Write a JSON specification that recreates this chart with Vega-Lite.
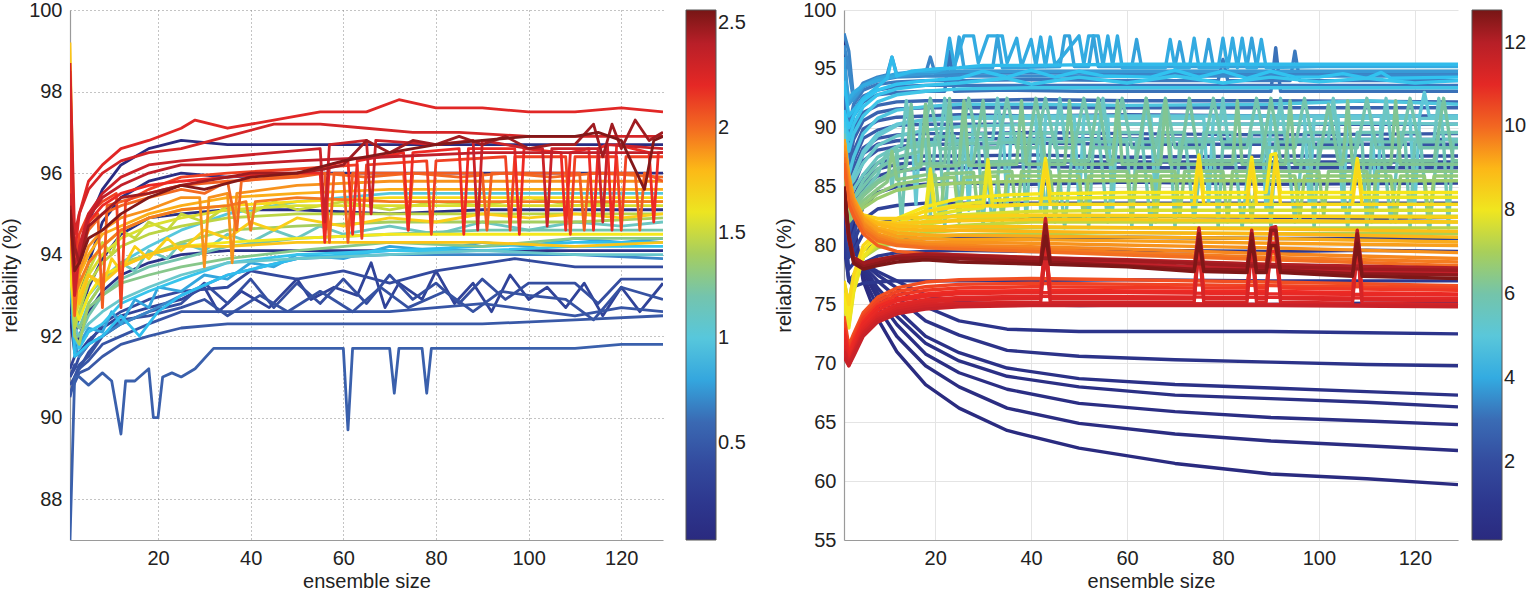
{
  "$schema": "https://vega.github.io/schema/vega-lite/v6.json",
  "padding": {"left": 0, "top": 0, "right": 0, "bottom": 0},
  "background": "white",
  "spacing": 28,
  "config": {
    "font": "Liberation Sans",
    "view": {"stroke": null},
    "axis": {
      "labelFontSize": 20, "titleFontSize": 20, "titleFontWeight": "normal",
      "labelColor": "#222", "titleColor": "#222",
      "domainColor": "#9a9a9a", "domainWidth": 1.2,
      "ticks": false, "tickSize": 0, "labelPadding": 8
    },
    "axisY": {"titlePadding": 8},
    "axisX": {"titlePadding": 3},
    "legend": {
      "labelFontSize": 20, "labelColor": "#222",
      "gradientLength": 530, "gradientThickness": 30,
      "gradientStrokeColor": "#555", "gradientStrokeWidth": 1,
      "labelOffset": 4, "padding": 0
    }
  },
  "resolve": {"scale": {"color": "independent"}, "legend": {"color": "independent"}},
  "datasets": {
    "L": [
      {"c":0.06,"x":1,"y":93.5},{"c":0.06,"x":2,"y":92.8},{"c":0.06,"x":3,"y":93.5},{"c":0.06,"x":5,"y":94.8},{"c":0.06,"x":8,"y":95.6},{"c":0.06,"x":12,"y":96.2},{"c":0.06,"x":18,"y":96.6},{"c":0.06,"x":25,"y":96.8},{"c":0.06,"x":35,"y":96.7},{"c":0.06,"x":50,"y":96.7},{"c":0.06,"x":70,"y":96.7},{"c":0.06,"x":90,"y":96.7},{"c":0.06,"x":110,"y":96.7},{"c":0.06,"x":129,"y":96.7},
      {"c":0.09,"x":1,"y":93},{"c":0.09,"x":2,"y":92.5},{"c":0.09,"x":3,"y":93},{"c":0.09,"x":5,"y":93.8},{"c":0.09,"x":8,"y":94.8},{"c":0.09,"x":12,"y":95.4},{"c":0.09,"x":18,"y":95.8},{"c":0.09,"x":25,"y":96},{"c":0.09,"x":35,"y":95.9},{"c":0.09,"x":50,"y":96},{"c":0.09,"x":70,"y":96},{"c":0.09,"x":90,"y":96},{"c":0.09,"x":110,"y":96},{"c":0.09,"x":129,"y":96},
      {"c":0.12,"x":1,"y":92.8},{"c":0.12,"x":2,"y":92},{"c":0.12,"x":3,"y":92.5},{"c":0.12,"x":5,"y":93.2},{"c":0.12,"x":8,"y":93.9},{"c":0.12,"x":12,"y":94.5},{"c":0.12,"x":18,"y":94.9},{"c":0.12,"x":25,"y":95},{"c":0.12,"x":35,"y":95.1},{"c":0.12,"x":50,"y":95.1},{"c":0.12,"x":70,"y":95},{"c":0.12,"x":90,"y":95.1},{"c":0.12,"x":110,"y":95.1},{"c":0.12,"x":129,"y":95.1},
      {"c":0.16,"x":1,"y":92.5},{"c":0.16,"x":2,"y":91.6},{"c":0.16,"x":3,"y":92},{"c":0.16,"x":5,"y":92.6},{"c":0.16,"x":8,"y":93.1},{"c":0.16,"x":12,"y":93.5},{"c":0.16,"x":18,"y":93.8},{"c":0.16,"x":25,"y":94},{"c":0.16,"x":35,"y":94.1},{"c":0.16,"x":50,"y":94.1},{"c":0.16,"x":70,"y":94.1},{"c":0.16,"x":90,"y":94.1},{"c":0.16,"x":110,"y":94.1},{"c":0.16,"x":129,"y":94.1},
      {"c":0.34,"x":1,"y":91.2},{"c":0.34,"x":2,"y":91.5},{"c":0.34,"x":3,"y":91.6},{"c":0.34,"x":5,"y":91.9},{"c":0.34,"x":8,"y":92.2},{"c":0.34,"x":12,"y":92.5},{"c":0.34,"x":18,"y":92.7},{"c":0.34,"x":25,"y":92.9},{"c":0.34,"x":30,"y":93.2},{"c":0.34,"x":33,"y":92.6},{"c":0.34,"x":38,"y":93.1},{"c":0.34,"x":44,"y":92.7},{"c":0.34,"x":50,"y":93.4},{"c":0.34,"x":53,"y":92.9},{"c":0.34,"x":58,"y":93.2},{"c":0.34,"x":63,"y":93},{"c":0.34,"x":66,"y":93.8},{"c":0.34,"x":69,"y":92.7},{"c":0.34,"x":72,"y":93.3},{"c":0.34,"x":77,"y":92.9},{"c":0.34,"x":80,"y":93.6},{"c":0.34,"x":84,"y":92.8},{"c":0.34,"x":88,"y":93.3},{"c":0.34,"x":92,"y":92.6},{"c":0.34,"x":96,"y":93.5},{"c":0.34,"x":100,"y":92.9},{"c":0.34,"x":104,"y":93.2},{"c":0.34,"x":108,"y":92.7},{"c":0.34,"x":112,"y":93.3},{"c":0.34,"x":116,"y":92.5},{"c":0.34,"x":120,"y":93.2},{"c":0.34,"x":124,"y":92.6},{"c":0.34,"x":129,"y":93.3},
      {"c":0.4,"x":1,"y":91},{"c":0.4,"x":2,"y":91.2},{"c":0.4,"x":3,"y":91.5},{"c":0.4,"x":5,"y":91.8},{"c":0.4,"x":8,"y":92.3},{"c":0.4,"x":12,"y":92.6},{"c":0.4,"x":18,"y":92.9},{"c":0.4,"x":25,"y":93.1},{"c":0.4,"x":35,"y":93.2},{"c":0.4,"x":40,"y":93.6},{"c":0.4,"x":50,"y":93.4},{"c":0.4,"x":60,"y":93.6},{"c":0.4,"x":70,"y":93.3},{"c":0.4,"x":80,"y":93.6},{"c":0.4,"x":97,"y":93.9},{"c":0.4,"x":110,"y":93.7},{"c":0.4,"x":129,"y":93.7},
      {"c":0.43,"x":1,"y":91},{"c":0.43,"x":2,"y":91.3},{"c":0.43,"x":3,"y":91.2},{"c":0.43,"x":5,"y":91.6},{"c":0.43,"x":8,"y":92},{"c":0.43,"x":12,"y":92.3},{"c":0.43,"x":18,"y":92.6},{"c":0.43,"x":25,"y":92.8},{"c":0.43,"x":30,"y":93.3},{"c":0.43,"x":35,"y":92.8},{"c":0.43,"x":40,"y":93.4},{"c":0.43,"x":45,"y":92.7},{"c":0.43,"x":50,"y":93.3},{"c":0.43,"x":55,"y":92.8},{"c":0.43,"x":60,"y":93.4},{"c":0.43,"x":65,"y":92.8},{"c":0.43,"x":70,"y":93.5},{"c":0.43,"x":75,"y":92.9},{"c":0.43,"x":80,"y":93.3},{"c":0.43,"x":85,"y":92.8},{"c":0.43,"x":90,"y":93.4},{"c":0.43,"x":95,"y":92.9},{"c":0.43,"x":100,"y":93.3},{"c":0.43,"x":110,"y":93.3},{"c":0.43,"x":115,"y":92.8},{"c":0.43,"x":120,"y":93.4},{"c":0.43,"x":129,"y":93.4},
      {"c":0.46,"x":1,"y":90.8},{"c":0.46,"x":2,"y":91},{"c":0.46,"x":3,"y":91.3},{"c":0.46,"x":5,"y":91.5},{"c":0.46,"x":8,"y":92},{"c":0.46,"x":12,"y":92.4},{"c":0.46,"x":18,"y":92.5},{"c":0.46,"x":25,"y":92.7},{"c":0.46,"x":30,"y":92.9},{"c":0.46,"x":35,"y":92.5},{"c":0.46,"x":42,"y":93},{"c":0.46,"x":48,"y":92.6},{"c":0.46,"x":55,"y":93.1},{"c":0.46,"x":62,"y":92.6},{"c":0.46,"x":68,"y":93.2},{"c":0.46,"x":74,"y":92.7},{"c":0.46,"x":82,"y":93.1},{"c":0.46,"x":88,"y":92.6},{"c":0.46,"x":94,"y":93.1},{"c":0.46,"x":100,"y":93},{"c":0.46,"x":108,"y":92.9},{"c":0.46,"x":114,"y":92.4},{"c":0.46,"x":120,"y":93.2},{"c":0.46,"x":129,"y":92.9},
      {"c":0.49,"x":1,"y":90.5},{"c":0.49,"x":2,"y":91},{"c":0.49,"x":3,"y":91.2},{"c":0.49,"x":5,"y":91.4},{"c":0.49,"x":8,"y":91.8},{"c":0.49,"x":12,"y":92},{"c":0.49,"x":18,"y":92.3},{"c":0.49,"x":25,"y":92.6},{"c":0.49,"x":35,"y":92.6},{"c":0.49,"x":50,"y":92.6},{"c":0.49,"x":70,"y":92.6},{"c":0.49,"x":90,"y":92.8},{"c":0.49,"x":110,"y":92.5},{"c":0.49,"x":120,"y":92.7},{"c":0.49,"x":129,"y":92.6},
      {"c":0.52,"x":1,"y":90.6},{"c":0.52,"x":3,"y":91.1},{"c":0.52,"x":5,"y":91.2},{"c":0.52,"x":8,"y":91.5},{"c":0.52,"x":12,"y":91.8},{"c":0.52,"x":18,"y":92},{"c":0.52,"x":25,"y":92.2},{"c":0.52,"x":35,"y":92.3},{"c":0.52,"x":50,"y":92.3},{"c":0.52,"x":70,"y":92.3},{"c":0.52,"x":90,"y":92.3},{"c":0.52,"x":110,"y":92.4},{"c":0.52,"x":129,"y":92.5},
      {"c":0.56,"x":1,"y":87},{"c":0.56,"x":2,"y":91},{"c":0.56,"x":3,"y":91},{"c":0.56,"x":5,"y":90.8},{"c":0.56,"x":8,"y":91.1},{"c":0.56,"x":10,"y":90.9},{"c":0.56,"x":12,"y":89.6},{"c":0.56,"x":13,"y":90.9},{"c":0.56,"x":15,"y":90.9},{"c":0.56,"x":18,"y":91.2},{"c":0.56,"x":19,"y":90},{"c":0.56,"x":20,"y":90},{"c":0.56,"x":21,"y":91},{"c":0.56,"x":23,"y":91.1},{"c":0.56,"x":25,"y":91},{"c":0.56,"x":28,"y":91.2},{"c":0.56,"x":32,"y":91.7},{"c":0.56,"x":40,"y":91.7},{"c":0.56,"x":50,"y":91.7},{"c":0.56,"x":60,"y":91.7},{"c":0.56,"x":61,"y":89.7},{"c":0.56,"x":62,"y":91.7},{"c":0.56,"x":70,"y":91.7},{"c":0.56,"x":71,"y":90.6},{"c":0.56,"x":72,"y":91.7},{"c":0.56,"x":77,"y":91.7},{"c":0.56,"x":78,"y":90.6},{"c":0.56,"x":79,"y":91.7},{"c":0.56,"x":90,"y":91.7},{"c":0.56,"x":110,"y":91.7},{"c":0.56,"x":120,"y":91.8},{"c":0.56,"x":129,"y":91.8},
      {"c":0.72,"x":1,"y":93.5},{"c":0.72,"x":2,"y":91.8},{"c":0.72,"x":3,"y":91.5},{"c":0.72,"x":5,"y":91.8},{"c":0.72,"x":8,"y":92},{"c":0.72,"x":12,"y":92.3},{"c":0.72,"x":18,"y":92.6},{"c":0.72,"x":25,"y":93},{"c":0.72,"x":35,"y":93.5},{"c":0.72,"x":50,"y":93.9},{"c":0.72,"x":70,"y":94},{"c":0.72,"x":90,"y":94},{"c":0.72,"x":110,"y":94},{"c":0.72,"x":129,"y":93.9},
      {"c":0.8,"x":1,"y":93.8},{"c":0.8,"x":2,"y":91.6},{"c":0.8,"x":3,"y":91.8},{"c":0.8,"x":5,"y":92.2},{"c":0.8,"x":8,"y":92.1},{"c":0.8,"x":10,"y":92.6},{"c":0.8,"x":12,"y":92.3},{"c":0.8,"x":15,"y":92.9},{"c":0.8,"x":18,"y":92.7},{"c":0.8,"x":20,"y":93.2},{"c":0.8,"x":25,"y":93.1},{"c":0.8,"x":30,"y":93.5},{"c":0.8,"x":35,"y":93.4},{"c":0.8,"x":40,"y":93.8},{"c":0.8,"x":45,"y":93.7},{"c":0.8,"x":50,"y":94},{"c":0.8,"x":60,"y":93.9},{"c":0.8,"x":70,"y":94.2},{"c":0.8,"x":80,"y":94.1},{"c":0.8,"x":90,"y":94.3},{"c":0.8,"x":100,"y":94.2},{"c":0.8,"x":110,"y":94.4},{"c":0.8,"x":120,"y":94.3},{"c":0.8,"x":129,"y":94.4},
      {"c":0.86,"x":1,"y":94},{"c":0.86,"x":2,"y":91.5},{"c":0.86,"x":3,"y":91.6},{"c":0.86,"x":5,"y":91.8},{"c":0.86,"x":8,"y":92},{"c":0.86,"x":12,"y":92.5},{"c":0.86,"x":16,"y":92},{"c":0.86,"x":20,"y":92.6},{"c":0.86,"x":25,"y":93},{"c":0.86,"x":35,"y":93.5},{"c":0.86,"x":50,"y":93.9},{"c":0.86,"x":70,"y":94.1},{"c":0.86,"x":90,"y":94.2},{"c":0.86,"x":110,"y":94.3},{"c":0.86,"x":129,"y":94.3},
      {"c":0.9,"x":1,"y":94.2},{"c":0.9,"x":2,"y":92},{"c":0.9,"x":3,"y":91.7},{"c":0.9,"x":5,"y":92.1},{"c":0.9,"x":8,"y":92.3},{"c":0.9,"x":12,"y":92.8},{"c":0.9,"x":18,"y":93.1},{"c":0.9,"x":25,"y":93.4},{"c":0.9,"x":35,"y":93.8},{"c":0.9,"x":50,"y":94},{"c":0.9,"x":70,"y":94.1},{"c":0.9,"x":90,"y":94.1},{"c":0.9,"x":110,"y":94.2},{"c":0.9,"x":129,"y":94.2},
      {"c":1.0,"x":1,"y":94.5},{"c":1.0,"x":2,"y":92.5},{"c":1.0,"x":3,"y":92.2},{"c":1.0,"x":5,"y":92.8},{"c":1.0,"x":8,"y":93.3},{"c":1.0,"x":12,"y":93.8},{"c":1.0,"x":18,"y":94.2},{"c":1.0,"x":25,"y":94.6},{"c":1.0,"x":35,"y":95},{"c":1.0,"x":50,"y":95.3},{"c":1.0,"x":70,"y":95.5},{"c":1.0,"x":90,"y":95.5},{"c":1.0,"x":110,"y":95.5},{"c":1.0,"x":129,"y":95.5},
      {"c":1.08,"x":1,"y":94},{"c":1.08,"x":2,"y":92.2},{"c":1.08,"x":3,"y":92},{"c":1.08,"x":5,"y":92.3},{"c":1.08,"x":8,"y":92.6},{"c":1.08,"x":12,"y":92.9},{"c":1.08,"x":18,"y":93.2},{"c":1.08,"x":25,"y":93.5},{"c":1.08,"x":35,"y":93.8},{"c":1.08,"x":50,"y":93.9},{"c":1.08,"x":70,"y":94},{"c":1.08,"x":90,"y":94.1},{"c":1.08,"x":110,"y":94},{"c":1.08,"x":129,"y":94},
      {"c":1.12,"x":1,"y":94.3},{"c":1.12,"x":2,"y":92.4},{"c":1.12,"x":3,"y":92.5},{"c":1.12,"x":5,"y":93},{"c":1.12,"x":8,"y":93.4},{"c":1.12,"x":12,"y":93.8},{"c":1.12,"x":15,"y":93.6},{"c":1.12,"x":18,"y":94.1},{"c":1.12,"x":22,"y":93.9},{"c":1.12,"x":25,"y":94.3},{"c":1.12,"x":30,"y":94.1},{"c":1.12,"x":35,"y":94.5},{"c":1.12,"x":40,"y":94.3},{"c":1.12,"x":45,"y":94.6},{"c":1.12,"x":50,"y":94.4},{"c":1.12,"x":55,"y":94.7},{"c":1.12,"x":60,"y":94.5},{"c":1.12,"x":70,"y":94.7},{"c":1.12,"x":80,"y":94.5},{"c":1.12,"x":90,"y":94.8},{"c":1.12,"x":100,"y":94.6},{"c":1.12,"x":110,"y":94.8},{"c":1.12,"x":120,"y":94.7},{"c":1.12,"x":129,"y":94.8},
      {"c":1.2,"x":1,"y":94},{"c":1.2,"x":2,"y":92},{"c":1.2,"x":3,"y":92},{"c":1.2,"x":5,"y":92.5},{"c":1.2,"x":8,"y":93},{"c":1.2,"x":12,"y":93.4},{"c":1.2,"x":18,"y":93.7},{"c":1.2,"x":25,"y":93.9},{"c":1.2,"x":35,"y":94.2},{"c":1.2,"x":50,"y":94.4},{"c":1.2,"x":70,"y":94.5},{"c":1.2,"x":90,"y":94.6},{"c":1.2,"x":110,"y":94.6},{"c":1.2,"x":129,"y":94.6},
      {"c":1.3,"x":1,"y":94},{"c":1.3,"x":2,"y":92.3},{"c":1.3,"x":3,"y":92.2},{"c":1.3,"x":5,"y":92.7},{"c":1.3,"x":8,"y":93},{"c":1.3,"x":12,"y":93.3},{"c":1.3,"x":18,"y":93.5},{"c":1.3,"x":25,"y":93.7},{"c":1.3,"x":35,"y":93.9},{"c":1.3,"x":50,"y":94.1},{"c":1.3,"x":70,"y":94.3},{"c":1.3,"x":90,"y":94.2},{"c":1.3,"x":110,"y":94.4},{"c":1.3,"x":129,"y":94.4},
      {"c":1.4,"x":1,"y":93.8},{"c":1.4,"x":2,"y":92},{"c":1.4,"x":3,"y":91.8},{"c":1.4,"x":5,"y":92.8},{"c":1.4,"x":8,"y":93.3},{"c":1.4,"x":12,"y":93.8},{"c":1.4,"x":18,"y":94},{"c":1.4,"x":25,"y":94.3},{"c":1.4,"x":35,"y":94.6},{"c":1.4,"x":50,"y":94.7},{"c":1.4,"x":70,"y":94.8},{"c":1.4,"x":90,"y":94.8},{"c":1.4,"x":110,"y":94.8},{"c":1.4,"x":129,"y":94.9},
      {"c":1.47,"x":1,"y":94.5},{"c":1.47,"x":2,"y":92.2},{"c":1.47,"x":3,"y":92.6},{"c":1.47,"x":5,"y":93.3},{"c":1.47,"x":8,"y":93.8},{"c":1.47,"x":12,"y":94.2},{"c":1.47,"x":18,"y":94.5},{"c":1.47,"x":25,"y":94.7},{"c":1.47,"x":35,"y":94.9},{"c":1.47,"x":50,"y":95},{"c":1.47,"x":70,"y":95},{"c":1.47,"x":90,"y":95},{"c":1.47,"x":110,"y":95},{"c":1.47,"x":129,"y":95},
      {"c":1.5,"x":1,"y":94.6},{"c":1.5,"x":2,"y":92.6},{"c":1.5,"x":3,"y":93},{"c":1.5,"x":5,"y":93.6},{"c":1.5,"x":8,"y":94.3},{"c":1.5,"x":10,"y":94},{"c":1.5,"x":12,"y":94.6},{"c":1.5,"x":15,"y":94.4},{"c":1.5,"x":18,"y":94.8},{"c":1.5,"x":22,"y":94.6},{"c":1.5,"x":25,"y":95},{"c":1.5,"x":30,"y":94.8},{"c":1.5,"x":35,"y":95.2},{"c":1.5,"x":40,"y":95},{"c":1.5,"x":45,"y":95.3},{"c":1.5,"x":50,"y":95.1},{"c":1.5,"x":60,"y":95.3},{"c":1.5,"x":70,"y":95.1},{"c":1.5,"x":80,"y":95.3},{"c":1.5,"x":90,"y":95.2},{"c":1.5,"x":100,"y":95.4},{"c":1.5,"x":110,"y":95.2},{"c":1.5,"x":120,"y":95.3},{"c":1.5,"x":129,"y":95.3},
      {"c":1.55,"x":1,"y":94},{"c":1.55,"x":2,"y":92.5},{"c":1.55,"x":3,"y":92.8},{"c":1.55,"x":5,"y":93.5},{"c":1.55,"x":8,"y":94},{"c":1.55,"x":12,"y":94.4},{"c":1.55,"x":18,"y":94.7},{"c":1.55,"x":25,"y":94.9},{"c":1.55,"x":35,"y":95.1},{"c":1.55,"x":50,"y":95.2},{"c":1.55,"x":70,"y":95.2},{"c":1.55,"x":90,"y":95.2},{"c":1.55,"x":110,"y":95.2},{"c":1.55,"x":129,"y":95.2},
      {"c":1.62,"x":1,"y":93.5},{"c":1.62,"x":2,"y":92.7},{"c":1.62,"x":3,"y":92.4},{"c":1.62,"x":5,"y":93},{"c":1.62,"x":8,"y":93.5},{"c":1.62,"x":12,"y":93.7},{"c":1.62,"x":18,"y":94},{"c":1.62,"x":25,"y":94.2},{"c":1.62,"x":35,"y":94.3},{"c":1.62,"x":50,"y":94.4},{"c":1.62,"x":70,"y":94.5},{"c":1.62,"x":90,"y":94.5},{"c":1.62,"x":110,"y":94.5},{"c":1.62,"x":129,"y":94.5},
      {"c":1.68,"x":1,"y":94.2},{"c":1.68,"x":2,"y":92.8},{"c":1.68,"x":3,"y":93.2},{"c":1.68,"x":5,"y":93.8},{"c":1.68,"x":8,"y":94.2},{"c":1.68,"x":12,"y":94.6},{"c":1.68,"x":18,"y":94.9},{"c":1.68,"x":25,"y":95.1},{"c":1.68,"x":35,"y":95.2},{"c":1.68,"x":50,"y":95.3},{"c":1.68,"x":70,"y":95.4},{"c":1.68,"x":90,"y":95.4},{"c":1.68,"x":110,"y":95.4},{"c":1.68,"x":129,"y":95.4},
      {"c":1.72,"x":1,"y":94},{"c":1.72,"x":2,"y":92.6},{"c":1.72,"x":3,"y":93},{"c":1.72,"x":5,"y":93.5},{"c":1.72,"x":8,"y":93.2},{"c":1.72,"x":10,"y":93.9},{"c":1.72,"x":12,"y":93.6},{"c":1.72,"x":15,"y":94.2},{"c":1.72,"x":18,"y":93.9},{"c":1.72,"x":22,"y":94.4},{"c":1.72,"x":25,"y":94.1},{"c":1.72,"x":30,"y":94.6},{"c":1.72,"x":35,"y":94.4},{"c":1.72,"x":40,"y":94.8},{"c":1.72,"x":45,"y":94.6},{"c":1.72,"x":50,"y":94.9},{"c":1.72,"x":60,"y":94.7},{"c":1.72,"x":70,"y":94.9},{"c":1.72,"x":80,"y":94.8},{"c":1.72,"x":90,"y":95},{"c":1.72,"x":100,"y":94.9},{"c":1.72,"x":110,"y":95},{"c":1.72,"x":120,"y":94.9},{"c":1.72,"x":129,"y":95},
      {"c":1.76,"x":1,"y":99.2},{"c":1.76,"x":2,"y":93.5},{"c":1.76,"x":3,"y":92.8},{"c":1.76,"x":5,"y":93.5},{"c":1.76,"x":8,"y":93.3},{"c":1.76,"x":12,"y":93.7},{"c":1.76,"x":18,"y":94},{"c":1.76,"x":25,"y":94.2},{"c":1.76,"x":35,"y":94.2},{"c":1.76,"x":50,"y":94.3},{"c":1.76,"x":70,"y":94.3},{"c":1.76,"x":90,"y":94.3},{"c":1.76,"x":110,"y":94.2},{"c":1.76,"x":129,"y":94.3},
      {"c":1.83,"x":1,"y":95},{"c":1.83,"x":2,"y":93},{"c":1.83,"x":3,"y":93.5},{"c":1.83,"x":5,"y":94},{"c":1.83,"x":8,"y":94.5},{"c":1.83,"x":12,"y":94.7},{"c":1.83,"x":18,"y":95},{"c":1.83,"x":25,"y":95.2},{"c":1.83,"x":35,"y":95.4},{"c":1.83,"x":50,"y":95.5},{"c":1.83,"x":70,"y":95.6},{"c":1.83,"x":90,"y":95.6},{"c":1.83,"x":110,"y":95.6},{"c":1.83,"x":129,"y":95.6},
      {"c":1.9,"x":1,"y":95},{"c":1.9,"x":2,"y":93},{"c":1.9,"x":3,"y":93.6},{"c":1.9,"x":5,"y":94.2},{"c":1.9,"x":8,"y":94.6},{"c":1.9,"x":12,"y":94.9},{"c":1.9,"x":18,"y":95.1},{"c":1.9,"x":25,"y":95.4},{"c":1.9,"x":29,"y":95.4},{"c":1.9,"x":30,"y":93.7},{"c":1.9,"x":31,"y":95.4},{"c":1.9,"x":35,"y":95.5},{"c":1.9,"x":36,"y":93.8},{"c":1.9,"x":37,"y":95.5},{"c":1.9,"x":50,"y":95.7},{"c":1.9,"x":70,"y":95.8},{"c":1.9,"x":90,"y":95.8},{"c":1.9,"x":110,"y":95.8},{"c":1.9,"x":129,"y":95.8},
      {"c":1.96,"x":1,"y":94.8},{"c":1.96,"x":2,"y":93},{"c":1.96,"x":3,"y":93.3},{"c":1.96,"x":5,"y":93.8},{"c":1.96,"x":8,"y":94.2},{"c":1.96,"x":12,"y":94.6},{"c":1.96,"x":18,"y":94.9},{"c":1.96,"x":25,"y":95.1},{"c":1.96,"x":35,"y":95.2},{"c":1.96,"x":39,"y":95.3},{"c":1.96,"x":40,"y":94.6},{"c":1.96,"x":41,"y":95.3},{"c":1.96,"x":50,"y":95.4},{"c":1.96,"x":70,"y":95.3},{"c":1.96,"x":90,"y":95.3},{"c":1.96,"x":110,"y":95.3},{"c":1.96,"x":129,"y":95.3},
      {"c":2.0,"x":1,"y":96},{"c":2.0,"x":2,"y":93.2},{"c":2.0,"x":3,"y":94},{"c":2.0,"x":5,"y":94.6},{"c":2.0,"x":8,"y":95},{"c":2.0,"x":12,"y":95.2},{"c":2.0,"x":18,"y":95.4},{"c":2.0,"x":25,"y":95.6},{"c":2.0,"x":30,"y":95.5},{"c":2.0,"x":35,"y":95.8},{"c":2.0,"x":37,"y":94.6},{"c":2.0,"x":38,"y":95.8},{"c":2.0,"x":45,"y":95.9},{"c":2.0,"x":55,"y":96},{"c":2.0,"x":65,"y":95.9},{"c":2.0,"x":75,"y":96},{"c":2.0,"x":85,"y":95.9},{"c":2.0,"x":95,"y":96},{"c":2.0,"x":105,"y":95.9},{"c":2.0,"x":115,"y":96},{"c":2.0,"x":129,"y":95.9},
      {"c":2.03,"x":1,"y":97},{"c":2.03,"x":2,"y":92.5},{"c":2.03,"x":3,"y":94},{"c":2.03,"x":5,"y":94.8},{"c":2.03,"x":7,"y":95},{"c":2.03,"x":8,"y":92.7},{"c":2.03,"x":9,"y":95.2},{"c":2.03,"x":12,"y":95.3},{"c":2.03,"x":18,"y":95.5},{"c":2.03,"x":25,"y":95.7},{"c":2.03,"x":35,"y":95.8},{"c":2.03,"x":50,"y":95.9},{"c":2.03,"x":56,"y":96},{"c":2.03,"x":57,"y":94.3},{"c":2.03,"x":58,"y":96},{"c":2.03,"x":60,"y":96},{"c":2.03,"x":61,"y":94.3},{"c":2.03,"x":62,"y":96},{"c":2.03,"x":73,"y":96},{"c":2.03,"x":74,"y":94.6},{"c":2.03,"x":75,"y":96},{"c":2.03,"x":90,"y":96},{"c":2.03,"x":91,"y":94.6},{"c":2.03,"x":92,"y":96},{"c":2.03,"x":111,"y":96},{"c":2.03,"x":112,"y":94.6},{"c":2.03,"x":113,"y":96},{"c":2.03,"x":123,"y":96},{"c":2.03,"x":124,"y":94.6},{"c":2.03,"x":125,"y":96},{"c":2.03,"x":129,"y":95.8},
      {"c":2.1,"x":1,"y":98.5},{"c":2.1,"x":2,"y":93.5},{"c":2.1,"x":3,"y":94.5},{"c":2.1,"x":5,"y":95},{"c":2.1,"x":8,"y":95.3},{"c":2.1,"x":11,"y":95.5},{"c":2.1,"x":12,"y":92.7},{"c":2.1,"x":13,"y":95.3},{"c":2.1,"x":18,"y":95.6},{"c":2.1,"x":25,"y":95.9},{"c":2.1,"x":35,"y":96},{"c":2.1,"x":50,"y":96.1},{"c":2.1,"x":63,"y":96.2},{"c":2.1,"x":64,"y":94.4},{"c":2.1,"x":65,"y":96.2},{"c":2.1,"x":78,"y":96.3},{"c":2.1,"x":79,"y":94.5},{"c":2.1,"x":80,"y":96.3},{"c":2.1,"x":95,"y":96.4},{"c":2.1,"x":96,"y":94.6},{"c":2.1,"x":97,"y":96.4},{"c":2.1,"x":108,"y":96.4},{"c":2.1,"x":109,"y":94.5},{"c":2.1,"x":110,"y":96.4},{"c":2.1,"x":119,"y":96.4},{"c":2.1,"x":120,"y":94.6},{"c":2.1,"x":121,"y":96.4},{"c":2.1,"x":129,"y":96.4},
      {"c":2.16,"x":1,"y":97.5},{"c":2.16,"x":2,"y":93},{"c":2.16,"x":3,"y":94},{"c":2.16,"x":5,"y":94.8},{"c":2.16,"x":8,"y":95.2},{"c":2.16,"x":12,"y":95.5},{"c":2.16,"x":18,"y":95.7},{"c":2.16,"x":25,"y":95.8},{"c":2.16,"x":35,"y":95.9},{"c":2.16,"x":45,"y":96},{"c":2.16,"x":55,"y":96},{"c":2.16,"x":56,"y":94.3},{"c":2.16,"x":57,"y":96.2},{"c":2.16,"x":61,"y":96.3},{"c":2.16,"x":62,"y":94.5},{"c":2.16,"x":63,"y":96.3},{"c":2.16,"x":73,"y":96.5},{"c":2.16,"x":74,"y":94.6},{"c":2.16,"x":75,"y":96.5},{"c":2.16,"x":85,"y":96.6},{"c":2.16,"x":86,"y":94.5},{"c":2.16,"x":87,"y":96.6},{"c":2.16,"x":97,"y":96.6},{"c":2.16,"x":98,"y":94.5},{"c":2.16,"x":99,"y":96.6},{"c":2.16,"x":107,"y":96.5},{"c":2.16,"x":108,"y":94.6},{"c":2.16,"x":109,"y":96.5},{"c":2.16,"x":113,"y":96.6},{"c":2.16,"x":114,"y":94.6},{"c":2.16,"x":115,"y":96.6},{"c":2.16,"x":117,"y":96.7},{"c":2.16,"x":118,"y":94.6},{"c":2.16,"x":119,"y":96.7},{"c":2.16,"x":126,"y":96.5},{"c":2.16,"x":127,"y":94.8},{"c":2.16,"x":128,"y":96.5},{"c":2.16,"x":129,"y":96.5},
      {"c":2.22,"x":1,"y":96.5},{"c":2.22,"x":2,"y":94},{"c":2.22,"x":3,"y":95},{"c":2.22,"x":5,"y":95.8},{"c":2.22,"x":8,"y":96.2},{"c":2.22,"x":12,"y":96.6},{"c":2.22,"x":18,"y":96.8},{"c":2.22,"x":25,"y":97.1},{"c":2.22,"x":28,"y":97.3},{"c":2.22,"x":35,"y":97.1},{"c":2.22,"x":45,"y":97.3},{"c":2.22,"x":55,"y":97.5},{"c":2.22,"x":65,"y":97.5},{"c":2.22,"x":72,"y":97.8},{"c":2.22,"x":80,"y":97.6},{"c":2.22,"x":90,"y":97.6},{"c":2.22,"x":100,"y":97.5},{"c":2.22,"x":110,"y":97.5},{"c":2.22,"x":120,"y":97.6},{"c":2.22,"x":129,"y":97.5},
      {"c":2.28,"x":1,"y":98.7},{"c":2.28,"x":2,"y":94.5},{"c":2.28,"x":3,"y":95},{"c":2.28,"x":5,"y":95.6},{"c":2.28,"x":8,"y":96},{"c":2.28,"x":12,"y":96.3},{"c":2.28,"x":18,"y":96.5},{"c":2.28,"x":25,"y":96.6},{"c":2.28,"x":35,"y":96.9},{"c":2.28,"x":45,"y":97.2},{"c":2.28,"x":55,"y":97.2},{"c":2.28,"x":65,"y":97.1},{"c":2.28,"x":75,"y":97},{"c":2.28,"x":85,"y":97},{"c":2.28,"x":100,"y":96.9},{"c":2.28,"x":110,"y":96.9},{"c":2.28,"x":129,"y":96.9},
      {"c":2.33,"x":1,"y":95.5},{"c":2.33,"x":2,"y":93},{"c":2.33,"x":3,"y":94.2},{"c":2.33,"x":5,"y":95},{"c":2.33,"x":8,"y":95.5},{"c":2.33,"x":12,"y":95.9},{"c":2.33,"x":18,"y":96.2},{"c":2.33,"x":25,"y":96.3},{"c":2.33,"x":35,"y":96.4},{"c":2.33,"x":45,"y":96.5},{"c":2.33,"x":55,"y":96.6},{"c":2.33,"x":56,"y":94.8},{"c":2.33,"x":57,"y":96.7},{"c":2.33,"x":65,"y":96.8},{"c":2.33,"x":66,"y":95},{"c":2.33,"x":67,"y":96.8},{"c":2.33,"x":80,"y":96.7},{"c":2.33,"x":88,"y":96.8},{"c":2.33,"x":89,"y":94.6},{"c":2.33,"x":90,"y":96.8},{"c":2.33,"x":100,"y":96.6},{"c":2.33,"x":103,"y":96.6},{"c":2.33,"x":104,"y":94.7},{"c":2.33,"x":105,"y":96.6},{"c":2.33,"x":115,"y":96.6},{"c":2.33,"x":116,"y":94.8},{"c":2.33,"x":117,"y":96.7},{"c":2.33,"x":129,"y":96.6},
      {"c":2.38,"x":1,"y":95},{"c":2.38,"x":2,"y":93.8},{"c":2.38,"x":3,"y":94},{"c":2.38,"x":5,"y":94.9},{"c":2.38,"x":8,"y":95.4},{"c":2.38,"x":12,"y":95.7},{"c":2.38,"x":18,"y":96},{"c":2.38,"x":25,"y":96.2},{"c":2.38,"x":35,"y":96.2},{"c":2.38,"x":50,"y":96.3},{"c":2.38,"x":70,"y":96.4},{"c":2.38,"x":90,"y":96.5},{"c":2.38,"x":110,"y":96.5},{"c":2.38,"x":129,"y":96.5},
      {"c":2.46,"x":1,"y":95.2},{"c":2.46,"x":2,"y":94.2},{"c":2.46,"x":3,"y":93.8},{"c":2.46,"x":5,"y":94.7},{"c":2.46,"x":8,"y":95},{"c":2.46,"x":12,"y":95.4},{"c":2.46,"x":18,"y":95.5},{"c":2.46,"x":25,"y":95.7},{"c":2.46,"x":30,"y":95.8},{"c":2.46,"x":40,"y":96},{"c":2.46,"x":50,"y":96},{"c":2.46,"x":56,"y":96.1},{"c":2.46,"x":60,"y":96.2},{"c":2.46,"x":65,"y":96.8},{"c":2.46,"x":70,"y":96.5},{"c":2.46,"x":75,"y":96.8},{"c":2.46,"x":80,"y":96.7},{"c":2.46,"x":85,"y":96.9},{"c":2.46,"x":90,"y":96.7},{"c":2.46,"x":95,"y":96.9},{"c":2.46,"x":100,"y":96.6},{"c":2.46,"x":105,"y":96.7},{"c":2.46,"x":110,"y":96.7},{"c":2.46,"x":114,"y":97.2},{"c":2.46,"x":116,"y":96.4},{"c":2.46,"x":118,"y":97.2},{"c":2.46,"x":120,"y":96.6},{"c":2.46,"x":123,"y":97.3},{"c":2.46,"x":126,"y":96.8},{"c":2.46,"x":129,"y":97},
      {"c":2.53,"x":1,"y":95.1},{"c":2.53,"x":2,"y":93.6},{"c":2.53,"x":3,"y":93.8},{"c":2.53,"x":5,"y":94.4},{"c":2.53,"x":8,"y":94.6},{"c":2.53,"x":12,"y":95},{"c":2.53,"x":18,"y":95.4},{"c":2.53,"x":25,"y":95.7},{"c":2.53,"x":30,"y":95.6},{"c":2.53,"x":40,"y":95.9},{"c":2.53,"x":50,"y":96},{"c":2.53,"x":60,"y":96.3},{"c":2.53,"x":70,"y":96.5},{"c":2.53,"x":80,"y":96.7},{"c":2.53,"x":90,"y":96.8},{"c":2.53,"x":100,"y":96.9},{"c":2.53,"x":110,"y":96.9},{"c":2.53,"x":115,"y":97},{"c":2.53,"x":120,"y":96.8},{"c":2.53,"x":125,"y":95.6},{"c":2.53,"x":127,"y":96.8},{"c":2.53,"x":129,"y":96.9}
    ],
    "R": [
      {"c":0.2,"x":1,"y":97.5},{"c":0.2,"x":2,"y":88},{"c":0.2,"x":3,"y":82},{"c":0.2,"x":5,"y":77},{"c":0.2,"x":8,"y":73.8},{"c":0.2,"x":12,"y":71},{"c":0.2,"x":18,"y":68.2},{"c":0.2,"x":25,"y":66.2},{"c":0.2,"x":35,"y":64.3},{"c":0.2,"x":50,"y":62.8},{"c":0.2,"x":70,"y":61.5},{"c":0.2,"x":90,"y":60.6},{"c":0.2,"x":110,"y":60.2},{"c":0.2,"x":129,"y":59.7},
      {"c":0.3,"x":1,"y":90},{"c":0.3,"x":2,"y":84},{"c":0.3,"x":3,"y":80.5},{"c":0.3,"x":5,"y":77.3},{"c":0.3,"x":8,"y":74.8},{"c":0.3,"x":12,"y":72.3},{"c":0.3,"x":18,"y":69.8},{"c":0.3,"x":25,"y":68},{"c":0.3,"x":35,"y":66.2},{"c":0.3,"x":50,"y":64.9},{"c":0.3,"x":70,"y":64},{"c":0.3,"x":90,"y":63.4},{"c":0.3,"x":110,"y":63},{"c":0.3,"x":129,"y":62.6},
      {"c":0.4,"x":1,"y":88},{"c":0.4,"x":2,"y":83},{"c":0.4,"x":3,"y":80.5},{"c":0.4,"x":5,"y":77.8},{"c":0.4,"x":8,"y":75.5},{"c":0.4,"x":12,"y":73.3},{"c":0.4,"x":18,"y":70.8},{"c":0.4,"x":25,"y":69.2},{"c":0.4,"x":35,"y":67.8},{"c":0.4,"x":50,"y":66.6},{"c":0.4,"x":70,"y":65.9},{"c":0.4,"x":90,"y":65.4},{"c":0.4,"x":110,"y":65.1},{"c":0.4,"x":129,"y":64.8},
      {"c":0.5,"x":1,"y":87},{"c":0.5,"x":2,"y":82.5},{"c":0.5,"x":3,"y":80.5},{"c":0.5,"x":5,"y":78},{"c":0.5,"x":8,"y":76},{"c":0.5,"x":12,"y":74},{"c":0.5,"x":18,"y":71.7},{"c":0.5,"x":25,"y":70.2},{"c":0.5,"x":35,"y":68.9},{"c":0.5,"x":50,"y":68},{"c":0.5,"x":70,"y":67.3},{"c":0.5,"x":90,"y":67},{"c":0.5,"x":110,"y":66.7},{"c":0.5,"x":129,"y":66.3},
      {"c":0.6,"x":1,"y":86},{"c":0.6,"x":2,"y":82},{"c":0.6,"x":3,"y":80.5},{"c":0.6,"x":5,"y":78.2},{"c":0.6,"x":8,"y":76.4},{"c":0.6,"x":12,"y":74.6},{"c":0.6,"x":18,"y":72.3},{"c":0.6,"x":25,"y":70.9},{"c":0.6,"x":35,"y":69.6},{"c":0.6,"x":50,"y":68.7},{"c":0.6,"x":70,"y":68.2},{"c":0.6,"x":90,"y":67.9},{"c":0.6,"x":110,"y":67.6},{"c":0.6,"x":129,"y":67.3},
      {"c":0.7,"x":1,"y":85},{"c":0.7,"x":2,"y":81.5},{"c":0.7,"x":3,"y":80},{"c":0.7,"x":5,"y":78.3},{"c":0.7,"x":8,"y":77},{"c":0.7,"x":12,"y":75.6},{"c":0.7,"x":18,"y":73.6},{"c":0.7,"x":25,"y":72.4},{"c":0.7,"x":35,"y":71.1},{"c":0.7,"x":50,"y":70.6},{"c":0.7,"x":70,"y":70.3},{"c":0.7,"x":90,"y":70.1},{"c":0.7,"x":110,"y":69.9},{"c":0.7,"x":129,"y":69.8},
      {"c":0.8,"x":1,"y":84},{"c":0.8,"x":2,"y":81},{"c":0.8,"x":3,"y":79.8},{"c":0.8,"x":5,"y":78.5},{"c":0.8,"x":8,"y":77.5},{"c":0.8,"x":12,"y":76.4},{"c":0.8,"x":18,"y":74.8},{"c":0.8,"x":25,"y":73.6},{"c":0.8,"x":35,"y":72.9},{"c":0.8,"x":50,"y":72.7},{"c":0.8,"x":70,"y":72.7},{"c":0.8,"x":90,"y":72.7},{"c":0.8,"x":110,"y":72.6},{"c":0.8,"x":129,"y":72.5},
      {"c":0.9,"x":1,"y":83},{"c":0.9,"x":2,"y":80.5},{"c":0.9,"x":3,"y":79.5},{"c":0.9,"x":5,"y":78.5},{"c":0.9,"x":8,"y":77.8},{"c":0.9,"x":12,"y":77},{"c":0.9,"x":18,"y":75.8},{"c":0.9,"x":25,"y":75.2},{"c":0.9,"x":35,"y":75},{"c":0.9,"x":50,"y":74.9},{"c":0.9,"x":70,"y":75},{"c":0.9,"x":90,"y":75},{"c":0.9,"x":110,"y":75.1},{"c":0.9,"x":129,"y":75.1},
      {"c":1.0,"x":1,"y":81},{"c":1.0,"x":2,"y":77},{"c":1.0,"x":3,"y":76.5},{"c":1.0,"x":5,"y":76.8},{"c":1.0,"x":8,"y":76.9},{"c":1.0,"x":12,"y":77},{"c":1.0,"x":25,"y":77},{"c":1.0,"x":60,"y":77.1},{"c":1.0,"x":90,"y":77},{"c":1.0,"x":129,"y":77},
      {"c":1.1,"x":1,"y":80},{"c":1.1,"x":2,"y":77},{"c":1.1,"x":3,"y":77.5},{"c":1.1,"x":5,"y":78.5},{"c":1.1,"x":8,"y":79.1},{"c":1.1,"x":12,"y":79.4},{"c":1.1,"x":18,"y":79.5},{"c":1.1,"x":25,"y":79.6},{"c":1.1,"x":40,"y":79.5},{"c":1.1,"x":60,"y":79.6},{"c":1.1,"x":90,"y":79.5},{"c":1.1,"x":110,"y":79.6},{"c":1.1,"x":129,"y":79.5},
      {"c":1.3,"x":1,"y":82},{"c":1.3,"x":2,"y":78},{"c":1.3,"x":3,"y":78.5},{"c":1.3,"x":5,"y":79.6},{"c":1.3,"x":8,"y":80.2},{"c":1.3,"x":12,"y":80.5},{"c":1.3,"x":18,"y":80.6},{"c":1.3,"x":25,"y":80.7},{"c":1.3,"x":40,"y":80.6},{"c":1.3,"x":60,"y":80.7},{"c":1.3,"x":90,"y":80.6},{"c":1.3,"x":129,"y":80.6},
      {"c":1.5,"x":1,"y":84},{"c":1.5,"x":2,"y":79},{"c":1.5,"x":3,"y":79.5},{"c":1.5,"x":5,"y":81},{"c":1.5,"x":8,"y":81.9},{"c":1.5,"x":12,"y":82.2},{"c":1.5,"x":18,"y":82.4},{"c":1.5,"x":25,"y":82.5},{"c":1.5,"x":40,"y":82.3},{"c":1.5,"x":60,"y":82.5},{"c":1.5,"x":90,"y":82.4},{"c":1.5,"x":110,"y":82.3},{"c":1.5,"x":129,"y":82.4},
      {"c":1.6,"x":1,"y":85},{"c":1.6,"x":2,"y":79.5},{"c":1.6,"x":3,"y":80.3},{"c":1.6,"x":5,"y":82.2},{"c":1.6,"x":8,"y":83.1},{"c":1.6,"x":12,"y":83.4},{"c":1.6,"x":18,"y":83.6},{"c":1.6,"x":40,"y":83.6},{"c":1.6,"x":90,"y":83.6},{"c":1.6,"x":129,"y":83.6},
      {"c":1.7,"x":1,"y":86},{"c":1.7,"x":2,"y":80},{"c":1.7,"x":3,"y":81},{"c":1.7,"x":5,"y":83.3},{"c":1.7,"x":8,"y":84.5},{"c":1.7,"x":12,"y":85},{"c":1.7,"x":18,"y":85.2},{"c":1.7,"x":25,"y":85.3},{"c":1.7,"x":40,"y":85.2},{"c":1.7,"x":60,"y":85.4},{"c":1.7,"x":90,"y":85.2},{"c":1.7,"x":129,"y":85.3},
      {"c":1.9,"x":1,"y":88},{"c":1.9,"x":2,"y":81},{"c":1.9,"x":3,"y":82.5},{"c":1.9,"x":5,"y":84.8},{"c":1.9,"x":8,"y":85.9},{"c":1.9,"x":12,"y":86.4},{"c":1.9,"x":18,"y":86.5},{"c":1.9,"x":25,"y":86.6},{"c":1.9,"x":40,"y":86.7},{"c":1.9,"x":60,"y":86.6},{"c":1.9,"x":90,"y":86.6},{"c":1.9,"x":129,"y":86.6},
      {"c":2.0,"x":1,"y":88.5},{"c":2.0,"x":2,"y":81.5},{"c":2.0,"x":3,"y":83.3},{"c":2.0,"x":5,"y":85.4},{"c":2.0,"x":8,"y":86.5},{"c":2.0,"x":12,"y":86.9},{"c":2.0,"x":18,"y":87.1},{"c":2.0,"x":40,"y":87.1},{"c":2.0,"x":90,"y":87.1},{"c":2.0,"x":129,"y":87.1},
      {"c":2.1,"x":1,"y":89},{"c":2.1,"x":2,"y":82},{"c":2.1,"x":3,"y":84},{"c":2.1,"x":5,"y":86},{"c":2.1,"x":8,"y":87},{"c":2.1,"x":12,"y":87.4},{"c":2.1,"x":18,"y":87.6},{"c":2.1,"x":25,"y":87.6},{"c":2.1,"x":40,"y":87.7},{"c":2.1,"x":60,"y":87.5},{"c":2.1,"x":90,"y":87.6},{"c":2.1,"x":129,"y":87.6},
      {"c":2.3,"x":1,"y":90},{"c":2.3,"x":2,"y":83},{"c":2.3,"x":3,"y":85},{"c":2.3,"x":5,"y":87.2},{"c":2.3,"x":8,"y":88.1},{"c":2.3,"x":12,"y":88.4},{"c":2.3,"x":18,"y":88.6},{"c":2.3,"x":25,"y":88.6},{"c":2.3,"x":40,"y":88.7},{"c":2.3,"x":60,"y":88.6},{"c":2.3,"x":90,"y":88.6},{"c":2.3,"x":129,"y":88.6},
      {"c":2.4,"x":1,"y":90.5},{"c":2.4,"x":2,"y":83.5},{"c":2.4,"x":3,"y":85.8},{"c":2.4,"x":5,"y":87.8},{"c":2.4,"x":8,"y":88.6},{"c":2.4,"x":12,"y":88.9},{"c":2.4,"x":18,"y":89},{"c":2.4,"x":40,"y":89.1},{"c":2.4,"x":90,"y":89},{"c":2.4,"x":129,"y":89},
      {"c":2.5,"x":1,"y":91},{"c":2.5,"x":2,"y":84},{"c":2.5,"x":3,"y":86.5},{"c":2.5,"x":5,"y":88.3},{"c":2.5,"x":8,"y":89.1},{"c":2.5,"x":12,"y":89.4},{"c":2.5,"x":18,"y":89.5},{"c":2.5,"x":25,"y":89.5},{"c":2.5,"x":40,"y":89.6},{"c":2.5,"x":60,"y":89.5},{"c":2.5,"x":90,"y":89.4},{"c":2.5,"x":129,"y":89.5},
      {"c":2.6,"x":1,"y":91.5},{"c":2.6,"x":2,"y":85},{"c":2.6,"x":3,"y":87.2},{"c":2.6,"x":5,"y":89.1},{"c":2.6,"x":8,"y":89.8},{"c":2.6,"x":12,"y":90.2},{"c":2.6,"x":18,"y":90.3},{"c":2.6,"x":40,"y":90.3},{"c":2.6,"x":90,"y":90.3},{"c":2.6,"x":129,"y":90.3},
      {"c":2.7,"x":1,"y":92},{"c":2.7,"x":2,"y":86},{"c":2.7,"x":3,"y":88},{"c":2.7,"x":5,"y":89.9},{"c":2.7,"x":8,"y":90.6},{"c":2.7,"x":12,"y":90.9},{"c":2.7,"x":18,"y":91},{"c":2.7,"x":25,"y":91.1},{"c":2.7,"x":40,"y":91},{"c":2.7,"x":60,"y":91.1},{"c":2.7,"x":90,"y":91},{"c":2.7,"x":129,"y":91},
      {"c":2.8,"x":1,"y":92.5},{"c":2.8,"x":2,"y":87},{"c":2.8,"x":3,"y":89},{"c":2.8,"x":5,"y":90.6},{"c":2.8,"x":8,"y":91.3},{"c":2.8,"x":12,"y":91.6},{"c":2.8,"x":18,"y":91.7},{"c":2.8,"x":40,"y":91.7},{"c":2.8,"x":90,"y":91.7},{"c":2.8,"x":129,"y":91.7},
      {"c":2.9,"x":1,"y":93},{"c":2.9,"x":2,"y":88},{"c":2.9,"x":3,"y":90},{"c":2.9,"x":5,"y":91.3},{"c":2.9,"x":8,"y":91.9},{"c":2.9,"x":12,"y":92.2},{"c":2.9,"x":18,"y":92.3},{"c":2.9,"x":25,"y":92.3},{"c":2.9,"x":40,"y":92.4},{"c":2.9,"x":60,"y":92.3},{"c":2.9,"x":90,"y":92.3},{"c":2.9,"x":129,"y":92.2},
      {"c":3.1,"x":1,"y":94},{"c":3.1,"x":2,"y":89},{"c":3.1,"x":3,"y":91},{"c":3.1,"x":5,"y":92.2},{"c":3.1,"x":8,"y":92.8},{"c":3.1,"x":12,"y":93},{"c":3.1,"x":18,"y":93.1},{"c":3.1,"x":22,"y":93.1},{"c":3.1,"x":23,"y":96.5},{"c":3.1,"x":24,"y":93.1},{"c":3.1,"x":35,"y":93.2},{"c":3.1,"x":50,"y":93.1},{"c":3.1,"x":60,"y":93.1},{"c":3.1,"x":90,"y":93.1},{"c":3.1,"x":91,"y":96.8},{"c":3.1,"x":92,"y":93.1},{"c":3.1,"x":110,"y":93.1},{"c":3.1,"x":129,"y":93.1},
      {"c":3.2,"x":1,"y":94.5},{"c":3.2,"x":2,"y":89.5},{"c":3.2,"x":3,"y":91.5},{"c":3.2,"x":5,"y":92.7},{"c":3.2,"x":8,"y":93.2},{"c":3.2,"x":12,"y":93.5},{"c":3.2,"x":18,"y":93.6},{"c":3.2,"x":40,"y":93.6},{"c":3.2,"x":90,"y":93.6},{"c":3.2,"x":129,"y":93.6},
      {"c":3.3,"x":1,"y":95},{"c":3.3,"x":2,"y":90},{"c":3.3,"x":3,"y":92},{"c":3.3,"x":5,"y":93.2},{"c":3.3,"x":8,"y":93.7},{"c":3.3,"x":12,"y":93.9},{"c":3.3,"x":18,"y":94},{"c":3.3,"x":25,"y":94},{"c":3.3,"x":40,"y":94.1},{"c":3.3,"x":60,"y":94},{"c":3.3,"x":79,"y":94},{"c":3.3,"x":80,"y":95.8},{"c":3.3,"x":81,"y":94},{"c":3.3,"x":94,"y":94},{"c":3.3,"x":95,"y":96.5},{"c":3.3,"x":96,"y":94},{"c":3.3,"x":129,"y":94},
      {"c":3.5,"x":1,"y":98},{"c":3.5,"x":2,"y":96.5},{"c":3.5,"x":3,"y":92.5},{"c":3.5,"x":5,"y":93.8},{"c":3.5,"x":8,"y":94.3},{"c":3.5,"x":10,"y":94.5},{"c":3.5,"x":11,"y":96},{"c":3.5,"x":12,"y":94.5},{"c":3.5,"x":18,"y":94.6},{"c":3.5,"x":19,"y":96},{"c":3.5,"x":20,"y":94.6},{"c":3.5,"x":40,"y":94.7},{"c":3.5,"x":60,"y":94.6},{"c":3.5,"x":90,"y":94.6},{"c":3.5,"x":129,"y":94.6},
      {"c":3.6,"x":1,"y":97},{"c":3.6,"x":2,"y":95},{"c":3.6,"x":3,"y":92.3},{"c":3.6,"x":5,"y":93.5},{"c":3.6,"x":8,"y":94},{"c":3.6,"x":12,"y":94.3},{"c":3.6,"x":18,"y":94.4},{"c":3.6,"x":40,"y":94.4},{"c":3.6,"x":90,"y":94.4},{"c":3.6,"x":129,"y":94.4},
      {"c":3.8,"x":1,"y":96},{"c":3.8,"x":2,"y":92},{"c":3.8,"x":3,"y":92.5},{"c":3.8,"x":5,"y":93.5},{"c":3.8,"x":8,"y":94.1},{"c":3.8,"x":12,"y":94.4},{"c":3.8,"x":18,"y":94.6},{"c":3.8,"x":25,"y":94.8},{"c":3.8,"x":40,"y":94.8},{"c":3.8,"x":60,"y":94.8},{"c":3.8,"x":90,"y":94.8},{"c":3.8,"x":129,"y":94.8},
      {"c":3.9,"x":1,"y":95},{"c":3.9,"x":2,"y":92.3},{"c":3.9,"x":3,"y":92.8},{"c":3.9,"x":5,"y":93.6},{"c":3.9,"x":8,"y":94.2},{"c":3.9,"x":12,"y":94.6},{"c":3.9,"x":18,"y":94.9},{"c":3.9,"x":24,"y":95},{"c":3.9,"x":25,"y":97.7},{"c":3.9,"x":26,"y":95.1},{"c":3.9,"x":32,"y":95.1},{"c":3.9,"x":33,"y":97.8},{"c":3.9,"x":34,"y":95.1},{"c":3.9,"x":46,"y":95.2},{"c":3.9,"x":47,"y":97.8},{"c":3.9,"x":48,"y":97.8},{"c":3.9,"x":49,"y":95.2},{"c":3.9,"x":52,"y":95.2},{"c":3.9,"x":53,"y":97.8},{"c":3.9,"x":54,"y":95.2},{"c":3.9,"x":61,"y":95.2},{"c":3.9,"x":62,"y":97.5},{"c":3.9,"x":63,"y":95.2},{"c":3.9,"x":70,"y":95.2},{"c":3.9,"x":71,"y":97.3},{"c":3.9,"x":72,"y":95.2},{"c":3.9,"x":76,"y":95.2},{"c":3.9,"x":77,"y":97.5},{"c":3.9,"x":78,"y":95.2},{"c":3.9,"x":85,"y":95.2},{"c":3.9,"x":86,"y":97.6},{"c":3.9,"x":87,"y":95.2},{"c":3.9,"x":129,"y":95.3},
      {"c":4.0,"x":1,"y":93},{"c":4.0,"x":2,"y":92.5},{"c":4.0,"x":3,"y":93},{"c":4.0,"x":5,"y":93.6},{"c":4.0,"x":8,"y":94},{"c":4.0,"x":12,"y":94.4},{"c":4.0,"x":16,"y":94.8},{"c":4.0,"x":20,"y":94.8},{"c":4.0,"x":22,"y":95},{"c":4.0,"x":23,"y":97.6},{"c":4.0,"x":24,"y":95.2},{"c":4.0,"x":26,"y":97.8},{"c":4.0,"x":28,"y":97.8},{"c":4.0,"x":29,"y":95.5},{"c":4.0,"x":31,"y":97.8},{"c":4.0,"x":34,"y":97.8},{"c":4.0,"x":35,"y":95.5},{"c":4.0,"x":37,"y":97.6},{"c":4.0,"x":38,"y":95.2},{"c":4.0,"x":40,"y":97.5},{"c":4.0,"x":41,"y":95.3},{"c":4.0,"x":42,"y":97.7},{"c":4.0,"x":43,"y":95.2},{"c":4.0,"x":44,"y":97.7},{"c":4.0,"x":45,"y":95.3},{"c":4.0,"x":50,"y":97.8},{"c":4.0,"x":51,"y":95.4},{"c":4.0,"x":52,"y":97.8},{"c":4.0,"x":54,"y":97.8},{"c":4.0,"x":55,"y":95.3},{"c":4.0,"x":56,"y":97.8},{"c":4.0,"x":57,"y":95.3},{"c":4.0,"x":58,"y":97.8},{"c":4.0,"x":59,"y":95.1},{"c":4.0,"x":68,"y":95.1},{"c":4.0,"x":69,"y":97.5},{"c":4.0,"x":70,"y":95.1},{"c":4.0,"x":73,"y":95.1},{"c":4.0,"x":74,"y":97.6},{"c":4.0,"x":75,"y":95.1},{"c":4.0,"x":79,"y":95.1},{"c":4.0,"x":80,"y":97.6},{"c":4.0,"x":81,"y":95.1},{"c":4.0,"x":82,"y":97.6},{"c":4.0,"x":83,"y":95.1},{"c":4.0,"x":84,"y":97.6},{"c":4.0,"x":85,"y":95.1},{"c":4.0,"x":87,"y":95.1},{"c":4.0,"x":88,"y":97.5},{"c":4.0,"x":89,"y":95.1},{"c":4.0,"x":100,"y":95.2},{"c":4.0,"x":129,"y":95.2},
      {"c":4.2,"x":1,"y":94},{"c":4.2,"x":2,"y":91},{"c":4.2,"x":3,"y":91.5},{"c":4.2,"x":5,"y":92.5},{"c":4.2,"x":8,"y":93.5},{"c":4.2,"x":10,"y":94.2},{"c":4.2,"x":11,"y":96},{"c":4.2,"x":12,"y":94.4},{"c":4.2,"x":15,"y":94.8},{"c":4.2,"x":20,"y":95},{"c":4.2,"x":25,"y":95.1},{"c":4.2,"x":30,"y":95.3},{"c":4.2,"x":40,"y":95.3},{"c":4.2,"x":60,"y":95.4},{"c":4.2,"x":90,"y":95.4},{"c":4.2,"x":110,"y":95.4},{"c":4.2,"x":129,"y":95.4},
      {"c":4.35,"x":1,"y":91.5},{"c":4.35,"x":2,"y":90},{"c":4.35,"x":3,"y":91},{"c":4.35,"x":5,"y":92.3},{"c":4.35,"x":8,"y":93.2},{"c":4.35,"x":12,"y":93.7},{"c":4.35,"x":18,"y":94},{"c":4.35,"x":25,"y":94.2},{"c":4.35,"x":30,"y":94.8},{"c":4.35,"x":35,"y":94.3},{"c":4.35,"x":40,"y":94.9},{"c":4.35,"x":45,"y":94.3},{"c":4.35,"x":50,"y":94.8},{"c":4.35,"x":55,"y":94.4},{"c":4.35,"x":65,"y":94.3},{"c":4.35,"x":70,"y":94.9},{"c":4.35,"x":75,"y":94.3},{"c":4.35,"x":80,"y":94.8},{"c":4.35,"x":85,"y":94.2},{"c":4.35,"x":90,"y":94.8},{"c":4.35,"x":95,"y":94.3},{"c":4.35,"x":100,"y":94.3},{"c":4.35,"x":105,"y":94.6},{"c":4.35,"x":110,"y":94.2},{"c":4.35,"x":113,"y":94.7},{"c":4.35,"x":115,"y":94.2},{"c":4.35,"x":129,"y":94.3},
      {"c":4.45,"x":1,"y":91},{"c":4.45,"x":2,"y":89},{"c":4.45,"x":3,"y":90.3},{"c":4.45,"x":5,"y":91.8},{"c":4.45,"x":8,"y":92.8},{"c":4.45,"x":12,"y":93.3},{"c":4.45,"x":18,"y":93.6},{"c":4.45,"x":25,"y":93.8},{"c":4.45,"x":35,"y":94.2},{"c":4.45,"x":40,"y":93.7},{"c":4.45,"x":50,"y":94.3},{"c":4.45,"x":60,"y":93.8},{"c":4.45,"x":70,"y":94.4},{"c":4.45,"x":80,"y":93.8},{"c":4.45,"x":90,"y":94.3},{"c":4.45,"x":100,"y":93.9},{"c":4.45,"x":110,"y":94.2},{"c":4.45,"x":120,"y":93.8},{"c":4.45,"x":129,"y":94},
      {"c":4.6,"x":1,"y":90.5},{"c":4.6,"x":2,"y":88},{"c":4.6,"x":3,"y":89.5},{"c":4.6,"x":5,"y":91},{"c":4.6,"x":8,"y":92.2},{"c":4.6,"x":12,"y":92.8},{"c":4.6,"x":18,"y":93.1},{"c":4.6,"x":25,"y":93.3},{"c":4.6,"x":40,"y":93.4},{"c":4.6,"x":60,"y":93.4},{"c":4.6,"x":90,"y":93.4},{"c":4.6,"x":129,"y":93.4},
      {"c":4.85,"x":1,"y":90},{"c":4.85,"x":2,"y":86},{"c":4.85,"x":3,"y":87.5},{"c":4.85,"x":5,"y":89.5},{"c":4.85,"x":8,"y":90.8},{"c":4.85,"x":12,"y":91.5},{"c":4.85,"x":18,"y":91.8},{"c":4.85,"x":25,"y":92},{"c":4.85,"x":40,"y":92},{"c":4.85,"x":60,"y":91.9},{"c":4.85,"x":90,"y":92},{"c":4.85,"x":110,"y":92.3},{"c":4.85,"x":129,"y":92},
      {"c":5.1,"x":1,"y":89},{"c":5.1,"x":2,"y":85},{"c":5.1,"x":3,"y":86},{"c":5.1,"x":5,"y":88},{"c":5.1,"x":8,"y":89.5},{"c":5.1,"x":12,"y":90.3},{"c":5.1,"x":18,"y":90.7},{"c":5.1,"x":25,"y":90.9},{"c":5.1,"x":40,"y":91},{"c":5.1,"x":60,"y":91},{"c":5.1,"x":90,"y":91},{"c":5.1,"x":110,"y":91},{"c":5.1,"x":121,"y":91},{"c":5.1,"x":122,"y":93},{"c":5.1,"x":123,"y":91},{"c":5.1,"x":129,"y":91},
      {"c":5.25,"x":1,"y":89},{"c":5.25,"x":2,"y":85},{"c":5.25,"x":3,"y":86},{"c":5.25,"x":5,"y":87.8},{"c":5.25,"x":8,"y":89.3},{"c":5.25,"x":12,"y":90.2},{"c":5.25,"x":15,"y":90.6},{"c":5.25,"x":16,"y":83.5},{"c":5.25,"x":17,"y":90.6},{"c":5.25,"x":26,"y":90.8},{"c":5.25,"x":27,"y":83},{"c":5.25,"x":28,"y":90.8},{"c":5.25,"x":34,"y":90.8},{"c":5.25,"x":35,"y":83.5},{"c":5.25,"x":36,"y":90.8},{"c":5.25,"x":41,"y":90.8},{"c":5.25,"x":42,"y":83},{"c":5.25,"x":43,"y":90.8},{"c":5.25,"x":49,"y":90.8},{"c":5.25,"x":50,"y":83.5},{"c":5.25,"x":51,"y":90.8},{"c":5.25,"x":56,"y":90.8},{"c":5.25,"x":57,"y":83},{"c":5.25,"x":58,"y":90.8},{"c":5.25,"x":65,"y":90.8},{"c":5.25,"x":66,"y":83},{"c":5.25,"x":67,"y":90.8},{"c":5.25,"x":76,"y":90.8},{"c":5.25,"x":77,"y":83.5},{"c":5.25,"x":78,"y":90.8},{"c":5.25,"x":88,"y":90.8},{"c":5.25,"x":89,"y":83},{"c":5.25,"x":90,"y":90.8},{"c":5.25,"x":97,"y":90.8},{"c":5.25,"x":98,"y":83.5},{"c":5.25,"x":99,"y":90.8},{"c":5.25,"x":104,"y":90.8},{"c":5.25,"x":105,"y":83},{"c":5.25,"x":106,"y":90.8},{"c":5.25,"x":111,"y":90.8},{"c":5.25,"x":112,"y":83},{"c":5.25,"x":113,"y":90.8},{"c":5.25,"x":119,"y":90.8},{"c":5.25,"x":120,"y":83.5},{"c":5.25,"x":121,"y":90.8},{"c":5.25,"x":129,"y":90.8},
      {"c":5.4,"x":1,"y":89},{"c":5.4,"x":2,"y":85},{"c":5.4,"x":3,"y":85.5},{"c":5.4,"x":5,"y":87},{"c":5.4,"x":8,"y":88.5},{"c":5.4,"x":12,"y":89.3},{"c":5.4,"x":18,"y":89.8},{"c":5.4,"x":25,"y":90.1},{"c":5.4,"x":40,"y":90.3},{"c":5.4,"x":60,"y":90.3},{"c":5.4,"x":90,"y":90.3},{"c":5.4,"x":110,"y":90.4},{"c":5.4,"x":129,"y":90.3},
      {"c":5.55,"x":1,"y":89},{"c":5.55,"x":2,"y":84.5},{"c":5.55,"x":3,"y":84.8},{"c":5.55,"x":5,"y":86},{"c":5.55,"x":8,"y":87.5},{"c":5.55,"x":12,"y":88.4},{"c":5.55,"x":13,"y":88.5},{"c":5.55,"x":14,"y":92.3},{"c":5.55,"x":15,"y":88.6},{"c":5.55,"x":21,"y":88.8},{"c":5.55,"x":22,"y":92.5},{"c":5.55,"x":23,"y":88.9},{"c":5.55,"x":32,"y":89},{"c":5.55,"x":33,"y":92.5},{"c":5.55,"x":34,"y":89},{"c":5.55,"x":45,"y":89},{"c":5.55,"x":46,"y":92.5},{"c":5.55,"x":47,"y":89},{"c":5.55,"x":54,"y":89},{"c":5.55,"x":55,"y":92.5},{"c":5.55,"x":56,"y":89},{"c":5.55,"x":63,"y":89},{"c":5.55,"x":64,"y":92.5},{"c":5.55,"x":65,"y":89},{"c":5.55,"x":79,"y":89},{"c":5.55,"x":80,"y":92.5},{"c":5.55,"x":81,"y":89},{"c":5.55,"x":91,"y":89},{"c":5.55,"x":92,"y":92.5},{"c":5.55,"x":93,"y":89},{"c":5.55,"x":102,"y":89},{"c":5.55,"x":103,"y":92.5},{"c":5.55,"x":104,"y":89},{"c":5.55,"x":113,"y":89},{"c":5.55,"x":114,"y":92.5},{"c":5.55,"x":115,"y":89},{"c":5.55,"x":124,"y":89},{"c":5.55,"x":125,"y":92.5},{"c":5.55,"x":126,"y":89},{"c":5.55,"x":129,"y":89},
      {"c":5.7,"x":1,"y":89.5},{"c":5.7,"x":2,"y":84},{"c":5.7,"x":3,"y":83.5},{"c":5.7,"x":5,"y":84.5},{"c":5.7,"x":8,"y":86},{"c":5.7,"x":10,"y":88},{"c":5.7,"x":11,"y":85},{"c":5.7,"x":12,"y":88},{"c":5.7,"x":18,"y":89},{"c":5.7,"x":19,"y":82.5},{"c":5.7,"x":20,"y":89.2},{"c":5.7,"x":24,"y":89.3},{"c":5.7,"x":25,"y":82},{"c":5.7,"x":26,"y":89.4},{"c":5.7,"x":30,"y":89.5},{"c":5.7,"x":32,"y":81.5},{"c":5.7,"x":34,"y":89.5},{"c":5.7,"x":38,"y":89.5},{"c":5.7,"x":39,"y":82},{"c":5.7,"x":40,"y":89.5},{"c":5.7,"x":45,"y":89.6},{"c":5.7,"x":47,"y":81.5},{"c":5.7,"x":49,"y":89.6},{"c":5.7,"x":54,"y":89.6},{"c":5.7,"x":56,"y":82},{"c":5.7,"x":58,"y":89.6},{"c":5.7,"x":63,"y":89.6},{"c":5.7,"x":65,"y":81.5},{"c":5.7,"x":67,"y":89.6},{"c":5.7,"x":72,"y":89.6},{"c":5.7,"x":74,"y":82},{"c":5.7,"x":76,"y":89.6},{"c":5.7,"x":82,"y":89.6},{"c":5.7,"x":84,"y":81.5},{"c":5.7,"x":86,"y":89.6},{"c":5.7,"x":93,"y":89.6},{"c":5.7,"x":95,"y":82},{"c":5.7,"x":97,"y":89.6},{"c":5.7,"x":104,"y":89.6},{"c":5.7,"x":106,"y":81.5},{"c":5.7,"x":108,"y":89.6},{"c":5.7,"x":113,"y":89.6},{"c":5.7,"x":115,"y":82},{"c":5.7,"x":117,"y":89.6},{"c":5.7,"x":121,"y":89.6},{"c":5.7,"x":123,"y":81},{"c":5.7,"x":125,"y":89.6},{"c":5.7,"x":129,"y":89.6},
      {"c":5.82,"x":1,"y":89},{"c":5.82,"x":2,"y":84},{"c":5.82,"x":3,"y":84},{"c":5.82,"x":5,"y":85.5},{"c":5.82,"x":8,"y":87},{"c":5.82,"x":12,"y":88.2},{"c":5.82,"x":13,"y":81.8},{"c":5.82,"x":14,"y":88.3},{"c":5.82,"x":21,"y":88.6},{"c":5.82,"x":22,"y":81.5},{"c":5.82,"x":23,"y":88.6},{"c":5.82,"x":29,"y":88.7},{"c":5.82,"x":30,"y":81.5},{"c":5.82,"x":31,"y":88.7},{"c":5.82,"x":42,"y":88.8},{"c":5.82,"x":43,"y":81.5},{"c":5.82,"x":44,"y":88.8},{"c":5.82,"x":51,"y":88.8},{"c":5.82,"x":52,"y":81.5},{"c":5.82,"x":53,"y":88.8},{"c":5.82,"x":60,"y":88.8},{"c":5.82,"x":61,"y":81.5},{"c":5.82,"x":62,"y":88.8},{"c":5.82,"x":69,"y":88.8},{"c":5.82,"x":70,"y":81.5},{"c":5.82,"x":71,"y":88.8},{"c":5.82,"x":78,"y":88.8},{"c":5.82,"x":79,"y":81.5},{"c":5.82,"x":80,"y":88.8},{"c":5.82,"x":89,"y":88.8},{"c":5.82,"x":90,"y":81.5},{"c":5.82,"x":91,"y":88.8},{"c":5.82,"x":98,"y":88.8},{"c":5.82,"x":99,"y":81.5},{"c":5.82,"x":100,"y":88.8},{"c":5.82,"x":109,"y":88.8},{"c":5.82,"x":110,"y":81.5},{"c":5.82,"x":111,"y":88.8},{"c":5.82,"x":118,"y":88.8},{"c":5.82,"x":119,"y":81.5},{"c":5.82,"x":120,"y":88.8},{"c":5.82,"x":126,"y":88.8},{"c":5.82,"x":127,"y":81.5},{"c":5.82,"x":128,"y":88.8},{"c":5.82,"x":129,"y":88.8},
      {"c":5.95,"x":1,"y":89},{"c":5.95,"x":2,"y":84},{"c":5.95,"x":3,"y":84},{"c":5.95,"x":5,"y":85},{"c":5.95,"x":8,"y":86.5},{"c":5.95,"x":12,"y":87.5},{"c":5.95,"x":17,"y":88},{"c":5.95,"x":19,"y":92.5},{"c":5.95,"x":21,"y":88.2},{"c":5.95,"x":25,"y":88.3},{"c":5.95,"x":27,"y":92.5},{"c":5.95,"x":29,"y":88.3},{"c":5.95,"x":33,"y":88.3},{"c":5.95,"x":35,"y":92.5},{"c":5.95,"x":37,"y":88.3},{"c":5.95,"x":41,"y":88.3},{"c":5.95,"x":43,"y":92.5},{"c":5.95,"x":45,"y":88.3},{"c":5.95,"x":49,"y":88.3},{"c":5.95,"x":51,"y":92.5},{"c":5.95,"x":53,"y":88.3},{"c":5.95,"x":57,"y":88.3},{"c":5.95,"x":59,"y":92.5},{"c":5.95,"x":61,"y":88.3},{"c":5.95,"x":66,"y":88.3},{"c":5.95,"x":68,"y":92.5},{"c":5.95,"x":70,"y":88.3},{"c":5.95,"x":76,"y":88.3},{"c":5.95,"x":78,"y":92.5},{"c":5.95,"x":80,"y":88.3},{"c":5.95,"x":85,"y":88.3},{"c":5.95,"x":87,"y":92.5},{"c":5.95,"x":89,"y":88.3},{"c":5.95,"x":95,"y":88.3},{"c":5.95,"x":97,"y":92.5},{"c":5.95,"x":99,"y":88.3},{"c":5.95,"x":108,"y":88.3},{"c":5.95,"x":110,"y":92.5},{"c":5.95,"x":112,"y":88.3},{"c":5.95,"x":117,"y":88.3},{"c":5.95,"x":119,"y":92.5},{"c":5.95,"x":121,"y":88.3},{"c":5.95,"x":129,"y":88.3},
      {"c":6.2,"x":1,"y":88.5},{"c":6.2,"x":2,"y":83},{"c":6.2,"x":3,"y":83.5},{"c":6.2,"x":5,"y":84.5},{"c":6.2,"x":8,"y":85.5},{"c":6.2,"x":12,"y":86.5},{"c":6.2,"x":14,"y":86.8},{"c":6.2,"x":15,"y":92},{"c":6.2,"x":16,"y":86.9},{"c":6.2,"x":22,"y":87},{"c":6.2,"x":23,"y":92.5},{"c":6.2,"x":24,"y":87},{"c":6.2,"x":28,"y":87.1},{"c":6.2,"x":30,"y":92.3},{"c":6.2,"x":31,"y":87.1},{"c":6.2,"x":39,"y":87.2},{"c":6.2,"x":41,"y":92.5},{"c":6.2,"x":43,"y":87.2},{"c":6.2,"x":52,"y":87.2},{"c":6.2,"x":54,"y":92.5},{"c":6.2,"x":56,"y":87.2},{"c":6.2,"x":62,"y":87.2},{"c":6.2,"x":64,"y":92.5},{"c":6.2,"x":66,"y":87.2},{"c":6.2,"x":71,"y":87.2},{"c":6.2,"x":73,"y":92.5},{"c":6.2,"x":75,"y":87.2},{"c":6.2,"x":88,"y":87.2},{"c":6.2,"x":90,"y":92.5},{"c":6.2,"x":92,"y":87.2},{"c":6.2,"x":100,"y":87.2},{"c":6.2,"x":102,"y":92},{"c":6.2,"x":104,"y":87.2},{"c":6.2,"x":124,"y":87.2},{"c":6.2,"x":126,"y":92.5},{"c":6.2,"x":128,"y":87.2},{"c":6.2,"x":129,"y":87.2},
      {"c":6.35,"x":1,"y":88},{"c":6.35,"x":2,"y":82.8},{"c":6.35,"x":3,"y":83.2},{"c":6.35,"x":5,"y":84.2},{"c":6.35,"x":8,"y":85.3},{"c":6.35,"x":12,"y":86.2},{"c":6.35,"x":17,"y":86.7},{"c":6.35,"x":18,"y":92},{"c":6.35,"x":19,"y":86.7},{"c":6.35,"x":25,"y":86.8},{"c":6.35,"x":26,"y":92.3},{"c":6.35,"x":27,"y":86.8},{"c":6.35,"x":37,"y":86.9},{"c":6.35,"x":38,"y":92.3},{"c":6.35,"x":39,"y":86.9},{"c":6.35,"x":47,"y":86.9},{"c":6.35,"x":48,"y":92.3},{"c":6.35,"x":49,"y":86.9},{"c":6.35,"x":57,"y":86.9},{"c":6.35,"x":58,"y":92.3},{"c":6.35,"x":59,"y":86.9},{"c":6.35,"x":67,"y":86.9},{"c":6.35,"x":68,"y":92.3},{"c":6.35,"x":69,"y":86.9},{"c":6.35,"x":82,"y":86.9},{"c":6.35,"x":83,"y":92.3},{"c":6.35,"x":84,"y":86.9},{"c":6.35,"x":93,"y":86.9},{"c":6.35,"x":94,"y":92.3},{"c":6.35,"x":95,"y":86.9},{"c":6.35,"x":105,"y":86.9},{"c":6.35,"x":106,"y":92.3},{"c":6.35,"x":107,"y":86.9},{"c":6.35,"x":115,"y":86.9},{"c":6.35,"x":116,"y":92.3},{"c":6.35,"x":117,"y":86.9},{"c":6.35,"x":129,"y":86.9},
      {"c":6.5,"x":1,"y":88},{"c":6.5,"x":2,"y":82.5},{"c":6.5,"x":3,"y":83},{"c":6.5,"x":5,"y":83.8},{"c":6.5,"x":8,"y":84.8},{"c":6.5,"x":10,"y":85.4},{"c":6.5,"x":11,"y":88},{"c":6.5,"x":12,"y":85.6},{"c":6.5,"x":18,"y":86},{"c":6.5,"x":20,"y":86},{"c":6.5,"x":21,"y":82},{"c":6.5,"x":22,"y":86.1},{"c":6.5,"x":28,"y":86.2},{"c":6.5,"x":29,"y":82.5},{"c":6.5,"x":30,"y":86.2},{"c":6.5,"x":36,"y":86.3},{"c":6.5,"x":37,"y":82},{"c":6.5,"x":38,"y":86.3},{"c":6.5,"x":44,"y":86.3},{"c":6.5,"x":45,"y":82},{"c":6.5,"x":46,"y":86.3},{"c":6.5,"x":60,"y":86.3},{"c":6.5,"x":61,"y":82},{"c":6.5,"x":62,"y":86.3},{"c":6.5,"x":70,"y":86.3},{"c":6.5,"x":71,"y":82.5},{"c":6.5,"x":72,"y":86.3},{"c":6.5,"x":80,"y":86.3},{"c":6.5,"x":81,"y":82},{"c":6.5,"x":82,"y":86.3},{"c":6.5,"x":100,"y":86.3},{"c":6.5,"x":101,"y":82.5},{"c":6.5,"x":102,"y":86.3},{"c":6.5,"x":110,"y":86.3},{"c":6.5,"x":111,"y":82},{"c":6.5,"x":112,"y":86.3},{"c":6.5,"x":129,"y":86.3},
      {"c":6.65,"x":1,"y":87.5},{"c":6.65,"x":2,"y":82.2},{"c":6.65,"x":3,"y":82.8},{"c":6.65,"x":5,"y":83.5},{"c":6.65,"x":8,"y":84.4},{"c":6.65,"x":12,"y":85.2},{"c":6.65,"x":18,"y":85.6},{"c":6.65,"x":24,"y":85.8},{"c":6.65,"x":25,"y":82},{"c":6.65,"x":26,"y":85.8},{"c":6.65,"x":33,"y":85.9},{"c":6.65,"x":34,"y":82},{"c":6.65,"x":35,"y":85.9},{"c":6.65,"x":50,"y":85.9},{"c":6.65,"x":51,"y":82.2},{"c":6.65,"x":52,"y":85.9},{"c":6.65,"x":65,"y":85.9},{"c":6.65,"x":66,"y":82},{"c":6.65,"x":67,"y":85.9},{"c":6.65,"x":85,"y":85.9},{"c":6.65,"x":86,"y":82},{"c":6.65,"x":87,"y":85.9},{"c":6.65,"x":95,"y":85.9},{"c":6.65,"x":96,"y":82.2},{"c":6.65,"x":97,"y":85.9},{"c":6.65,"x":115,"y":85.9},{"c":6.65,"x":116,"y":82},{"c":6.65,"x":117,"y":85.9},{"c":6.65,"x":122,"y":85.9},{"c":6.65,"x":123,"y":82},{"c":6.65,"x":124,"y":85.9},{"c":6.65,"x":129,"y":85.9},
      {"c":6.8,"x":1,"y":87},{"c":6.8,"x":2,"y":82},{"c":6.8,"x":3,"y":82.5},{"c":6.8,"x":5,"y":83.2},{"c":6.8,"x":8,"y":84},{"c":6.8,"x":12,"y":84.7},{"c":6.8,"x":18,"y":85.1},{"c":6.8,"x":25,"y":85.3},{"c":6.8,"x":40,"y":85.5},{"c":6.8,"x":60,"y":85.5},{"c":6.8,"x":90,"y":85.5},{"c":6.8,"x":129,"y":85.5},
      {"c":7.1,"x":1,"y":77},{"c":7.1,"x":2,"y":75},{"c":7.1,"x":3,"y":77.5},{"c":7.1,"x":5,"y":79},{"c":7.1,"x":8,"y":79.8},{"c":7.1,"x":12,"y":80.3},{"c":7.1,"x":18,"y":80.7},{"c":7.1,"x":25,"y":80.9},{"c":7.1,"x":40,"y":81},{"c":7.1,"x":60,"y":81.1},{"c":7.1,"x":90,"y":81},{"c":7.1,"x":129,"y":81},
      {"c":7.25,"x":1,"y":76.5},{"c":7.25,"x":2,"y":74.5},{"c":7.25,"x":3,"y":77.2},{"c":7.25,"x":5,"y":79},{"c":7.25,"x":8,"y":79.9},{"c":7.25,"x":12,"y":80.6},{"c":7.25,"x":18,"y":81.1},{"c":7.25,"x":25,"y":81.3},{"c":7.25,"x":40,"y":81.5},{"c":7.25,"x":90,"y":81.5},{"c":7.25,"x":129,"y":81.5},
      {"c":7.4,"x":1,"y":76},{"c":7.4,"x":2,"y":74},{"c":7.4,"x":3,"y":77},{"c":7.4,"x":5,"y":79},{"c":7.4,"x":8,"y":80},{"c":7.4,"x":12,"y":80.8},{"c":7.4,"x":18,"y":81.4},{"c":7.4,"x":25,"y":81.7},{"c":7.4,"x":40,"y":82},{"c":7.4,"x":60,"y":82},{"c":7.4,"x":90,"y":82},{"c":7.4,"x":129,"y":82},
      {"c":7.55,"x":1,"y":75.8},{"c":7.55,"x":2,"y":73.8},{"c":7.55,"x":3,"y":76.8},{"c":7.55,"x":5,"y":79},{"c":7.55,"x":8,"y":80.1},{"c":7.55,"x":12,"y":81},{"c":7.55,"x":18,"y":81.8},{"c":7.55,"x":25,"y":82.2},{"c":7.55,"x":40,"y":82.5},{"c":7.55,"x":90,"y":82.5},{"c":7.55,"x":129,"y":82.5},
      {"c":7.7,"x":1,"y":75.5},{"c":7.7,"x":2,"y":73.5},{"c":7.7,"x":3,"y":76.5},{"c":7.7,"x":5,"y":79},{"c":7.7,"x":8,"y":80.3},{"c":7.7,"x":12,"y":81.3},{"c":7.7,"x":18,"y":82.1},{"c":7.7,"x":25,"y":82.6},{"c":7.7,"x":40,"y":82.9},{"c":7.7,"x":60,"y":83},{"c":7.7,"x":90,"y":83},{"c":7.7,"x":129,"y":83},
      {"c":7.82,"x":1,"y":75.2},{"c":7.82,"x":2,"y":73.2},{"c":7.82,"x":3,"y":76.2},{"c":7.82,"x":5,"y":79},{"c":7.82,"x":8,"y":80.4},{"c":7.82,"x":12,"y":81.5},{"c":7.82,"x":18,"y":82.5},{"c":7.82,"x":19,"y":85.8},{"c":7.82,"x":20,"y":82.6},{"c":7.82,"x":25,"y":83},{"c":7.82,"x":30,"y":83.2},{"c":7.82,"x":31,"y":86.5},{"c":7.82,"x":32,"y":83.3},{"c":7.82,"x":40,"y":83.5},{"c":7.82,"x":90,"y":83.5},{"c":7.82,"x":129,"y":83.5},
      {"c":7.95,"x":1,"y":75},{"c":7.95,"x":2,"y":73},{"c":7.95,"x":3,"y":76},{"c":7.95,"x":5,"y":79},{"c":7.95,"x":8,"y":80.5},{"c":7.95,"x":12,"y":81.8},{"c":7.95,"x":17,"y":82.8},{"c":7.95,"x":18,"y":83},{"c":7.95,"x":19,"y":86.5},{"c":7.95,"x":20,"y":83.1},{"c":7.95,"x":25,"y":83.5},{"c":7.95,"x":30,"y":83.7},{"c":7.95,"x":31,"y":87.3},{"c":7.95,"x":32,"y":83.8},{"c":7.95,"x":40,"y":84},{"c":7.95,"x":60,"y":84.1},{"c":7.95,"x":90,"y":84.1},{"c":7.95,"x":129,"y":84.1},
      {"c":8.15,"x":1,"y":76},{"c":8.15,"x":2,"y":74},{"c":8.15,"x":3,"y":77},{"c":8.15,"x":5,"y":79.5},{"c":8.15,"x":8,"y":81},{"c":8.15,"x":12,"y":82.3},{"c":8.15,"x":18,"y":83.3},{"c":8.15,"x":25,"y":84},{"c":8.15,"x":35,"y":84.3},{"c":8.15,"x":42,"y":84.4},{"c":8.15,"x":43,"y":87.4},{"c":8.15,"x":44,"y":84.4},{"c":8.15,"x":60,"y":84.5},{"c":8.15,"x":74,"y":84.5},{"c":8.15,"x":75,"y":87.7},{"c":8.15,"x":76,"y":84.5},{"c":8.15,"x":85,"y":84.5},{"c":8.15,"x":86,"y":87.5},{"c":8.15,"x":87,"y":84.5},{"c":8.15,"x":89,"y":84.5},{"c":8.15,"x":90,"y":87.7},{"c":8.15,"x":91,"y":87.8},{"c":8.15,"x":92,"y":84.5},{"c":8.15,"x":107,"y":84.5},{"c":8.15,"x":108,"y":87.4},{"c":8.15,"x":109,"y":84.5},{"c":8.15,"x":129,"y":84.5},
      {"c":8.4,"x":1,"y":77},{"c":8.4,"x":2,"y":75},{"c":8.4,"x":3,"y":77.5},{"c":8.4,"x":5,"y":80},{"c":8.4,"x":8,"y":81.2},{"c":8.4,"x":12,"y":82.2},{"c":8.4,"x":18,"y":82.9},{"c":8.4,"x":25,"y":83.3},{"c":8.4,"x":40,"y":83.5},{"c":8.4,"x":42,"y":83.5},{"c":8.4,"x":43,"y":87},{"c":8.4,"x":44,"y":83.5},{"c":8.4,"x":74,"y":83.5},{"c":8.4,"x":75,"y":87.3},{"c":8.4,"x":76,"y":83.5},{"c":8.4,"x":85,"y":83.5},{"c":8.4,"x":86,"y":87},{"c":8.4,"x":87,"y":83.5},{"c":8.4,"x":90,"y":83.5},{"c":8.4,"x":91,"y":87.5},{"c":8.4,"x":92,"y":83.5},{"c":8.4,"x":107,"y":83.5},{"c":8.4,"x":108,"y":87},{"c":8.4,"x":109,"y":83.5},{"c":8.4,"x":129,"y":83.5},
      {"c":8.55,"x":1,"y":88},{"c":8.55,"x":2,"y":84.5},{"c":8.55,"x":3,"y":83.2},{"c":8.55,"x":5,"y":82.6},{"c":8.55,"x":8,"y":82.3},{"c":8.55,"x":12,"y":82.3},{"c":8.55,"x":18,"y":82.4},{"c":8.55,"x":40,"y":82.6},{"c":8.55,"x":90,"y":82.5},{"c":8.55,"x":129,"y":82.4},
      {"c":8.7,"x":1,"y":88.5},{"c":8.7,"x":2,"y":85},{"c":8.7,"x":3,"y":83.5},{"c":8.7,"x":5,"y":82.5},{"c":8.7,"x":8,"y":82},{"c":8.7,"x":12,"y":81.9},{"c":8.7,"x":18,"y":82},{"c":8.7,"x":25,"y":82.1},{"c":8.7,"x":40,"y":82.2},{"c":8.7,"x":60,"y":82.2},{"c":8.7,"x":90,"y":82.1},{"c":8.7,"x":129,"y":82},
      {"c":8.85,"x":1,"y":88.8},{"c":8.85,"x":2,"y":85.2},{"c":8.85,"x":3,"y":83.8},{"c":8.85,"x":5,"y":82.5},{"c":8.85,"x":8,"y":81.9},{"c":8.85,"x":12,"y":81.7},{"c":8.85,"x":18,"y":81.6},{"c":8.85,"x":40,"y":81.6},{"c":8.85,"x":90,"y":81.4},{"c":8.85,"x":129,"y":81.2},
      {"c":9.0,"x":1,"y":89},{"c":9.0,"x":2,"y":85.5},{"c":9.0,"x":3,"y":84},{"c":9.0,"x":5,"y":82.5},{"c":9.0,"x":8,"y":81.8},{"c":9.0,"x":12,"y":81.4},{"c":9.0,"x":18,"y":81.3},{"c":9.0,"x":25,"y":81.3},{"c":9.0,"x":40,"y":81.2},{"c":9.0,"x":60,"y":81.1},{"c":9.0,"x":90,"y":81},{"c":9.0,"x":129,"y":80.7},
      {"c":9.15,"x":1,"y":89},{"c":9.15,"x":2,"y":85.8},{"c":9.15,"x":3,"y":84},{"c":9.15,"x":5,"y":82.4},{"c":9.15,"x":8,"y":81.5},{"c":9.15,"x":12,"y":81.1},{"c":9.15,"x":18,"y":80.9},{"c":9.15,"x":40,"y":80.8},{"c":9.15,"x":90,"y":80.6},{"c":9.15,"x":129,"y":80.3},
      {"c":9.3,"x":1,"y":89},{"c":9.3,"x":2,"y":86},{"c":9.3,"x":3,"y":84},{"c":9.3,"x":5,"y":82.3},{"c":9.3,"x":8,"y":81.3},{"c":9.3,"x":12,"y":80.8},{"c":9.3,"x":18,"y":80.6},{"c":9.3,"x":25,"y":80.5},{"c":9.3,"x":40,"y":80.5},{"c":9.3,"x":60,"y":80.4},{"c":9.3,"x":90,"y":80.2},{"c":9.3,"x":129,"y":80},
      {"c":9.45,"x":1,"y":88.5},{"c":9.45,"x":2,"y":85.5},{"c":9.45,"x":3,"y":83.8},{"c":9.45,"x":5,"y":82},{"c":9.45,"x":8,"y":81},{"c":9.45,"x":12,"y":80.5},{"c":9.45,"x":18,"y":80.3},{"c":9.45,"x":40,"y":80.2},{"c":9.45,"x":90,"y":79.8},{"c":9.45,"x":129,"y":79.4},
      {"c":9.6,"x":1,"y":88},{"c":9.6,"x":2,"y":85},{"c":9.6,"x":3,"y":83.5},{"c":9.6,"x":5,"y":81.8},{"c":9.6,"x":8,"y":80.8},{"c":9.6,"x":12,"y":80.3},{"c":9.6,"x":18,"y":80.1},{"c":9.6,"x":25,"y":80},{"c":9.6,"x":40,"y":79.9},{"c":9.6,"x":60,"y":79.7},{"c":9.6,"x":90,"y":79.3},{"c":9.6,"x":129,"y":78.9},
      {"c":9.75,"x":1,"y":87.8},{"c":9.75,"x":2,"y":84.5},{"c":9.75,"x":3,"y":83.2},{"c":9.75,"x":5,"y":81.5},{"c":9.75,"x":8,"y":80.6},{"c":9.75,"x":12,"y":80.1},{"c":9.75,"x":18,"y":79.9},{"c":9.75,"x":40,"y":79.7},{"c":9.75,"x":90,"y":79},{"c":9.75,"x":129,"y":78.6},
      {"c":9.9,"x":1,"y":87.5},{"c":9.9,"x":2,"y":84},{"c":9.9,"x":3,"y":83},{"c":9.9,"x":5,"y":81.3},{"c":9.9,"x":8,"y":80.4},{"c":9.9,"x":12,"y":80},{"c":9.9,"x":18,"y":79.8},{"c":9.9,"x":25,"y":79.7},{"c":9.9,"x":40,"y":79.5},{"c":9.9,"x":60,"y":79.2},{"c":9.9,"x":90,"y":78.8},{"c":9.9,"x":129,"y":78.3},
      {"c":10.1,"x":1,"y":87},{"c":10.1,"x":2,"y":83.5},{"c":10.1,"x":3,"y":82.5},{"c":10.1,"x":5,"y":81},{"c":10.1,"x":8,"y":80},{"c":10.1,"x":12,"y":79.5},{"c":10.1,"x":18,"y":79.3},{"c":10.1,"x":40,"y":79},{"c":10.1,"x":90,"y":78.4},{"c":10.1,"x":129,"y":77.9},
      {"c":10.3,"x":1,"y":74},{"c":10.3,"x":2,"y":71.5},{"c":10.3,"x":3,"y":72.5},{"c":10.3,"x":5,"y":74.3},{"c":10.3,"x":8,"y":75.6},{"c":10.3,"x":12,"y":76.4},{"c":10.3,"x":18,"y":76.9},{"c":10.3,"x":25,"y":77.1},{"c":10.3,"x":40,"y":77.2},{"c":10.3,"x":60,"y":77.1},{"c":10.3,"x":90,"y":76.9},{"c":10.3,"x":129,"y":76.6},
      {"c":10.45,"x":1,"y":73.5},{"c":10.45,"x":2,"y":71.2},{"c":10.45,"x":3,"y":72.2},{"c":10.45,"x":5,"y":74},{"c":10.45,"x":8,"y":75.3},{"c":10.45,"x":12,"y":76.1},{"c":10.45,"x":18,"y":76.5},{"c":10.45,"x":25,"y":76.7},{"c":10.45,"x":40,"y":76.8},{"c":10.45,"x":90,"y":76.6},{"c":10.45,"x":129,"y":76.4},
      {"c":10.6,"x":1,"y":73},{"c":10.6,"x":2,"y":71},{"c":10.6,"x":3,"y":72},{"c":10.6,"x":5,"y":73.8},{"c":10.6,"x":8,"y":75},{"c":10.6,"x":12,"y":75.8},{"c":10.6,"x":18,"y":76.2},{"c":10.6,"x":25,"y":76.4},{"c":10.6,"x":40,"y":76.5},{"c":10.6,"x":42,"y":76.5},{"c":10.6,"x":43,"y":80},{"c":10.6,"x":44,"y":76.5},{"c":10.6,"x":74,"y":76.4},{"c":10.6,"x":75,"y":80},{"c":10.6,"x":76,"y":76.4},{"c":10.6,"x":85,"y":76.4},{"c":10.6,"x":86,"y":79.5},{"c":10.6,"x":87,"y":76.4},{"c":10.6,"x":89,"y":76.4},{"c":10.6,"x":90,"y":80},{"c":10.6,"x":91,"y":80},{"c":10.6,"x":92,"y":76.4},{"c":10.6,"x":107,"y":76.3},{"c":10.6,"x":108,"y":80},{"c":10.6,"x":109,"y":76.3},{"c":10.6,"x":129,"y":76.2},
      {"c":10.75,"x":1,"y":72.8},{"c":10.75,"x":2,"y":70.8},{"c":10.75,"x":3,"y":71.8},{"c":10.75,"x":5,"y":73.5},{"c":10.75,"x":8,"y":74.8},{"c":10.75,"x":12,"y":75.5},{"c":10.75,"x":18,"y":75.9},{"c":10.75,"x":25,"y":76.1},{"c":10.75,"x":42,"y":76.2},{"c":10.75,"x":43,"y":79},{"c":10.75,"x":44,"y":76.2},{"c":10.75,"x":74,"y":76.1},{"c":10.75,"x":75,"y":79.5},{"c":10.75,"x":76,"y":76.1},{"c":10.75,"x":85,"y":76.1},{"c":10.75,"x":86,"y":80},{"c":10.75,"x":87,"y":76.1},{"c":10.75,"x":89,"y":76.1},{"c":10.75,"x":90,"y":79.5},{"c":10.75,"x":91,"y":79.5},{"c":10.75,"x":92,"y":76.1},{"c":10.75,"x":107,"y":76},{"c":10.75,"x":108,"y":79.5},{"c":10.75,"x":109,"y":76},{"c":10.75,"x":129,"y":75.9},
      {"c":10.9,"x":1,"y":72.5},{"c":10.9,"x":2,"y":70.5},{"c":10.9,"x":3,"y":71.5},{"c":10.9,"x":5,"y":73.3},{"c":10.9,"x":8,"y":74.5},{"c":10.9,"x":12,"y":75.3},{"c":10.9,"x":18,"y":75.7},{"c":10.9,"x":25,"y":75.9},{"c":10.9,"x":40,"y":76},{"c":10.9,"x":60,"y":76},{"c":10.9,"x":90,"y":75.9},{"c":10.9,"x":129,"y":75.8},
      {"c":11.05,"x":1,"y":72},{"c":11.05,"x":2,"y":70.2},{"c":11.05,"x":3,"y":71.2},{"c":11.05,"x":5,"y":73},{"c":11.05,"x":8,"y":74.2},{"c":11.05,"x":12,"y":75},{"c":11.05,"x":18,"y":75.4},{"c":11.05,"x":25,"y":75.6},{"c":11.05,"x":40,"y":75.7},{"c":11.05,"x":90,"y":75.6},{"c":11.05,"x":129,"y":75.5},
      {"c":11.2,"x":1,"y":71.5},{"c":11.2,"x":2,"y":70},{"c":11.2,"x":3,"y":71},{"c":11.2,"x":5,"y":72.8},{"c":11.2,"x":8,"y":74},{"c":11.2,"x":12,"y":74.8},{"c":11.2,"x":18,"y":75.2},{"c":11.2,"x":25,"y":75.4},{"c":11.2,"x":42,"y":75.5},{"c":11.2,"x":43,"y":81},{"c":11.2,"x":44,"y":75.5},{"c":11.2,"x":74,"y":75.5},{"c":11.2,"x":75,"y":80.5},{"c":11.2,"x":76,"y":75.5},{"c":11.2,"x":85,"y":75.5},{"c":11.2,"x":86,"y":80.5},{"c":11.2,"x":87,"y":75.5},{"c":11.2,"x":89,"y":75.5},{"c":11.2,"x":90,"y":81},{"c":11.2,"x":91,"y":81},{"c":11.2,"x":92,"y":75.5},{"c":11.2,"x":107,"y":75.4},{"c":11.2,"x":108,"y":80.5},{"c":11.2,"x":109,"y":75.4},{"c":11.2,"x":129,"y":75.3},
      {"c":11.35,"x":1,"y":71.2},{"c":11.35,"x":2,"y":69.9},{"c":11.35,"x":3,"y":70.9},{"c":11.35,"x":5,"y":72.6},{"c":11.35,"x":8,"y":73.8},{"c":11.35,"x":12,"y":74.6},{"c":11.35,"x":18,"y":75},{"c":11.35,"x":25,"y":75.1},{"c":11.35,"x":42,"y":75.2},{"c":11.35,"x":43,"y":79.8},{"c":11.35,"x":44,"y":75.2},{"c":11.35,"x":74,"y":75.2},{"c":11.35,"x":75,"y":80},{"c":11.35,"x":76,"y":75.2},{"c":11.35,"x":85,"y":75.2},{"c":11.35,"x":86,"y":79.8},{"c":11.35,"x":87,"y":75.2},{"c":11.35,"x":89,"y":75.2},{"c":11.35,"x":90,"y":80.2},{"c":11.35,"x":91,"y":80.2},{"c":11.35,"x":92,"y":75.2},{"c":11.35,"x":107,"y":75.1},{"c":11.35,"x":108,"y":79.8},{"c":11.35,"x":109,"y":75.1},{"c":11.35,"x":129,"y":75},
      {"c":11.5,"x":1,"y":71},{"c":11.5,"x":2,"y":69.8},{"c":11.5,"x":3,"y":70.8},{"c":11.5,"x":5,"y":72.5},{"c":11.5,"x":8,"y":73.7},{"c":11.5,"x":12,"y":74.4},{"c":11.5,"x":18,"y":74.8},{"c":11.5,"x":25,"y":75},{"c":11.5,"x":40,"y":75.1},{"c":11.5,"x":60,"y":75.1},{"c":11.5,"x":90,"y":75},{"c":11.5,"x":129,"y":74.9},
      {"c":11.7,"x":1,"y":70.5},{"c":11.7,"x":2,"y":69.8},{"c":11.7,"x":3,"y":70.6},{"c":11.7,"x":5,"y":72.3},{"c":11.7,"x":8,"y":73.5},{"c":11.7,"x":12,"y":74.2},{"c":11.7,"x":18,"y":74.6},{"c":11.7,"x":25,"y":74.8},{"c":11.7,"x":40,"y":74.9},{"c":11.7,"x":90,"y":74.9},{"c":11.7,"x":129,"y":74.8},
      {"c":11.9,"x":1,"y":84},{"c":11.9,"x":2,"y":80.5},{"c":11.9,"x":3,"y":78.8},{"c":11.9,"x":5,"y":78.3},{"c":11.9,"x":8,"y":78.6},{"c":11.9,"x":12,"y":78.9},{"c":11.9,"x":18,"y":79},{"c":11.9,"x":25,"y":78.9},{"c":11.9,"x":35,"y":78.8},{"c":11.9,"x":42,"y":78.7},{"c":11.9,"x":43,"y":82.3},{"c":11.9,"x":44,"y":78.7},{"c":11.9,"x":60,"y":78.5},{"c":11.9,"x":74,"y":78.2},{"c":11.9,"x":75,"y":81.5},{"c":11.9,"x":76,"y":78.2},{"c":11.9,"x":85,"y":78.1},{"c":11.9,"x":86,"y":81.3},{"c":11.9,"x":87,"y":78.1},{"c":11.9,"x":89,"y":78},{"c":11.9,"x":90,"y":81.5},{"c":11.9,"x":91,"y":81.6},{"c":11.9,"x":92,"y":78},{"c":11.9,"x":107,"y":77.8},{"c":11.9,"x":108,"y":81.3},{"c":11.9,"x":109,"y":77.8},{"c":11.9,"x":129,"y":77.7},
      {"c":12.1,"x":1,"y":84.5},{"c":12.1,"x":2,"y":80.8},{"c":12.1,"x":3,"y":79},{"c":12.1,"x":5,"y":78.5},{"c":12.1,"x":8,"y":78.8},{"c":12.1,"x":12,"y":79.1},{"c":12.1,"x":18,"y":79.3},{"c":12.1,"x":25,"y":79.2},{"c":12.1,"x":40,"y":79},{"c":12.1,"x":60,"y":78.8},{"c":12.1,"x":90,"y":78.4},{"c":12.1,"x":129,"y":78.1},
      {"c":12.3,"x":1,"y":85},{"c":12.3,"x":2,"y":81},{"c":12.3,"x":3,"y":79},{"c":12.3,"x":5,"y":78.5},{"c":12.3,"x":8,"y":78.8},{"c":12.3,"x":12,"y":79.1},{"c":12.3,"x":18,"y":79.2},{"c":12.3,"x":25,"y":79.1},{"c":12.3,"x":35,"y":79},{"c":12.3,"x":50,"y":78.8},{"c":12.3,"x":60,"y":78.7},{"c":12.3,"x":90,"y":78.2},{"c":12.3,"x":110,"y":78},{"c":12.3,"x":129,"y":77.9},
      {"c":12.5,"x":1,"y":85},{"c":12.5,"x":2,"y":80.8},{"c":12.5,"x":3,"y":78.7},{"c":12.5,"x":5,"y":78.2},{"c":12.5,"x":8,"y":78.5},{"c":12.5,"x":12,"y":78.9},{"c":12.5,"x":18,"y":79},{"c":12.5,"x":25,"y":78.9},{"c":12.5,"x":42,"y":78.6},{"c":12.5,"x":43,"y":81.8},{"c":12.5,"x":44,"y":78.6},{"c":12.5,"x":74,"y":78},{"c":12.5,"x":75,"y":81},{"c":12.5,"x":76,"y":78},{"c":12.5,"x":85,"y":77.9},{"c":12.5,"x":86,"y":81},{"c":12.5,"x":87,"y":77.9},{"c":12.5,"x":89,"y":77.9},{"c":12.5,"x":90,"y":81.3},{"c":12.5,"x":91,"y":81.3},{"c":12.5,"x":92,"y":77.9},{"c":12.5,"x":107,"y":77.6},{"c":12.5,"x":108,"y":81},{"c":12.5,"x":109,"y":77.6},{"c":12.5,"x":129,"y":77.5},
      {"c":12.7,"x":1,"y":85},{"c":12.7,"x":2,"y":80.7},{"c":12.7,"x":3,"y":78.5},{"c":12.7,"x":5,"y":78},{"c":12.7,"x":8,"y":78.3},{"c":12.7,"x":12,"y":78.6},{"c":12.7,"x":18,"y":78.8},{"c":12.7,"x":25,"y":78.6},{"c":12.7,"x":35,"y":78.5},{"c":12.7,"x":42,"y":78.4},{"c":12.7,"x":43,"y":80.8},{"c":12.7,"x":44,"y":78.4},{"c":12.7,"x":60,"y":78.2},{"c":12.7,"x":74,"y":77.8},{"c":12.7,"x":75,"y":80.5},{"c":12.7,"x":76,"y":77.8},{"c":12.7,"x":85,"y":77.7},{"c":12.7,"x":86,"y":80.4},{"c":12.7,"x":87,"y":77.7},{"c":12.7,"x":89,"y":77.7},{"c":12.7,"x":90,"y":80},{"c":12.7,"x":91,"y":80},{"c":12.7,"x":92,"y":77.7},{"c":12.7,"x":107,"y":77.4},{"c":12.7,"x":108,"y":80.2},{"c":12.7,"x":109,"y":77.4},{"c":12.7,"x":129,"y":77.2}
    ]
  },
  "hconcat": [
    {
      "width": 593,
      "height": 530,
      "data": {"name": "L"},
      "mark": {"type": "line", "strokeWidth": 2.8, "clip": true, "strokeJoin": "round"},
      "encoding": {
        "x": {
          "field": "x", "type": "quantitative",
          "scale": {"domain": [1, 129], "nice": false, "zero": false},
          "axis": {"values": [20, 40, 60, 80, 100, 120], "title": "ensemble size", "gridDash": [1, 3], "gridColor": "#888", "gridOpacity": 1}
        },
        "y": {
          "field": "y", "type": "quantitative",
          "scale": {"domain": [87, 100], "nice": false, "zero": false},
          "axis": {"values": [88, 90, 92, 94, 96, 98, 100], "title": "reliability (%)", "gridDash": [1, 3], "gridColor": "#888", "gridOpacity": 1}
        },
        "color": {
          "field": "c", "type": "quantitative",
          "scale": {
            "domain": [0.04, 0.292, 0.544, 0.7204, 0.8716, 1.048, 1.2496, 1.4512, 1.6276, 1.804, 1.9552, 2.1568, 2.3836, 2.56],
            "range": ["#2a2a7f", "#2e3d95", "#3a5ca9", "#3b86c8", "#2ec3f1", "#66c8d4", "#78c3a0", "#b5d249", "#f7e91a", "#fcb817", "#f47c20", "#ee2a24", "#c0202a", "#771615"],
            "interpolate": "rgb"
          },
          "legend": {"title": null, "values": [0.5, 1, 1.5, 2, 2.5], "format": "~g", "offset": 23}
        }
      }
    },
    {
      "width": 614,
      "height": 530,
      "data": {"name": "R"},
      "mark": {"type": "line", "strokeWidth": 3.4, "clip": true, "strokeJoin": "round"},
      "encoding": {
        "x": {
          "field": "x", "type": "quantitative",
          "scale": {"domain": [1, 129], "nice": false, "zero": false},
          "axis": {"values": [20, 40, 60, 80, 100, 120], "title": "ensemble size", "gridColor": "#e4e4e4", "gridOpacity": 1}
        },
        "y": {
          "field": "y", "type": "quantitative",
          "scale": {"domain": [55, 100], "nice": false, "zero": false},
          "axis": {"values": [55, 60, 65, 70, 75, 80, 85, 90, 95, 100], "title": "reliability (%)", "gridColor": "#e4e4e4", "gridOpacity": 1}
        },
        "color": {
          "field": "c", "type": "quantitative",
          "scale": {
            "domain": [0.13, 1.395, 2.66, 3.5455, 4.3045, 5.19, 6.202, 7.214, 8.1, 8.985, 9.744, 10.756, 11.8945, 12.78],
            "range": ["#2a2a7f", "#2e3d95", "#3a5ca9", "#3b86c8", "#2ec3f1", "#66c8d4", "#78c3a0", "#b5d249", "#f7e91a", "#fcb817", "#f47c20", "#ee2a24", "#c0202a", "#771615"],
            "interpolate": "rgb"
          },
          "legend": {"title": null, "values": [2, 4, 6, 8, 10, 12], "format": "~g", "offset": 14}
        }
      }
    }
  ]
}
